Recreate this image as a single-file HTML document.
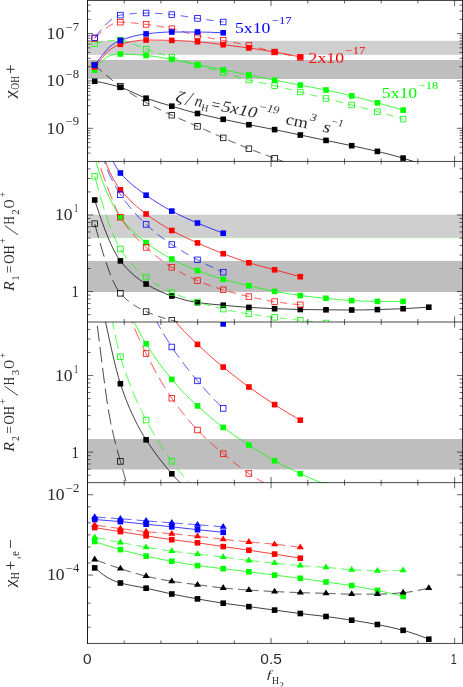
<!DOCTYPE html>
<html><head><meta charset="utf-8"><title>chart</title>
<style>html,body{margin:0;padding:0;background:#fff;}svg{display:block;}</style></head>
<body>
<svg width="463" height="687" viewBox="0 0 463 687">
<rect x="0" y="0" width="463" height="687" fill="#fff"/>
<defs>
<clipPath id="cp0"><rect x="87.50" y="0.50" width="375.00" height="160.95"/></clipPath>
<clipPath id="cp1"><rect x="87.50" y="161.45" width="375.00" height="160.55"/></clipPath>
<clipPath id="cp2"><rect x="87.50" y="322.00" width="375.00" height="160.65"/></clipPath>
<clipPath id="cp3"><rect x="87.50" y="482.65" width="375.00" height="160.80"/></clipPath>
</defs>
<rect x="87.50" y="40.90" width="375.00" height="14.00" fill="#cfcfcf"/>
<rect x="87.50" y="60.00" width="375.00" height="19.00" fill="#bebebe"/>
<rect x="87.50" y="214.70" width="375.00" height="23.00" fill="#cfcfcf"/>
<rect x="87.50" y="260.90" width="375.00" height="31.10" fill="#bebebe"/>
<line x1="87.50" x2="462.50" y1="237.8" y2="237.8" stroke="#00ff00" stroke-width="0.6" stroke-opacity="0.3"/>
<rect x="87.50" y="439.00" width="375.00" height="30.40" fill="#bebebe"/>
<g clip-path="url(#cp0)">
<path d="M94.70 65.00L95.13 65.40L95.56 65.79L95.99 66.19L96.41 66.58L96.84 66.97L97.27 67.36L97.70 67.75L98.13 68.14L98.56 68.53L98.98 68.91L99.41 69.30L99.84 69.68L100.27 70.06L100.70 70.44L101.13 70.82L101.55 71.20L101.80 71.41M106.04 75.07L106.27 75.26L106.69 75.62L107.12 75.98L107.55 76.33L107.98 76.69L108.41 77.04L108.83 77.40L109.26 77.75L109.69 78.10L110.12 78.44L110.55 78.79L110.98 79.14L111.40 79.48L111.83 79.82L112.26 80.16L112.69 80.50L113.12 80.84L113.18 80.89M117.63 84.28L117.83 84.43L118.26 84.75L118.69 85.06L119.11 85.37L119.54 85.68L119.97 85.99L120.40 86.30L120.83 86.61L121.26 86.91L121.69 87.21L122.11 87.52L122.54 87.82L122.97 88.11L123.40 88.41L123.83 88.71L124.26 89.00L124.68 89.30L124.84 89.40M129.49 92.51L129.82 92.73L130.25 93.01L130.68 93.28L131.11 93.56L131.54 93.83L131.97 94.11L132.39 94.38L132.82 94.65L133.25 94.92L133.68 95.19L134.11 95.45L134.53 95.72L134.96 95.98L135.39 96.25L135.82 96.51L136.25 96.77L136.68 97.03L136.73 97.07M141.55 99.92L141.82 100.08L142.24 100.32L142.67 100.57L143.10 100.81L143.53 101.06L143.96 101.30L144.39 101.54L144.81 101.78L145.24 102.02L145.67 102.26L146.10 102.50L146.53 102.74L146.96 102.97L147.39 103.21L147.81 103.44L148.24 103.67L148.67 103.90L148.80 103.97M153.76 106.56L153.81 106.59L154.24 106.80L154.67 107.02L155.10 107.24L155.52 107.45L155.95 107.67L156.38 107.88L156.81 108.09L157.24 108.30L157.67 108.51L158.09 108.72L158.52 108.93L158.95 109.14L159.38 109.35L159.81 109.56L160.23 109.77L160.66 109.97L161.04 110.15M166.10 112.55L166.23 112.61L166.66 112.81L167.09 113.01L167.52 113.21L167.94 113.41L168.37 113.61L168.80 113.81L169.23 114.01L169.66 114.21L170.09 114.41L170.51 114.60L170.94 114.80L171.37 115.00L171.80 115.20L172.23 115.40L172.66 115.60L173.09 115.79L173.38 115.93M178.49 118.21L178.65 118.28L179.08 118.47L179.51 118.66L179.94 118.84L180.37 119.03L180.80 119.21L181.22 119.40L181.65 119.58L182.08 119.77L182.51 119.95L182.94 120.14L183.37 120.32L183.79 120.50L184.22 120.69L184.65 120.87L185.08 121.05L185.51 121.24L185.79 121.36M190.94 123.55L191.07 123.61L191.50 123.80L191.93 123.98L192.36 124.16L192.79 124.35L193.22 124.53L193.64 124.72L194.07 124.90L194.50 125.09L194.93 125.28L195.36 125.46L195.79 125.65L196.21 125.84L196.64 126.02L197.07 126.21L197.50 126.40L197.93 126.59L198.25 126.73M203.36 129.01L203.50 129.08L203.93 129.27L204.35 129.46L204.78 129.66L205.21 129.85L205.64 130.04L206.07 130.24L206.50 130.43L206.92 130.62L207.35 130.82L207.78 131.01L208.21 131.21L208.64 131.40L209.07 131.59L209.49 131.79L209.92 131.98L210.35 132.18L210.66 132.32M215.76 134.62L215.92 134.69L216.35 134.88L216.77 135.07L217.20 135.26L217.63 135.45L218.06 135.64L218.49 135.83L218.92 136.02L219.34 136.21L219.77 136.40L220.20 136.59L220.63 136.78L221.06 136.97L221.49 137.15L221.91 137.34L222.34 137.53L222.77 137.71L223.05 137.83M228.19 140.06L228.34 140.12L228.77 140.31L229.20 140.49L229.63 140.68L230.05 140.86L230.48 141.04L230.91 141.23L231.34 141.41L231.77 141.60L232.20 141.78L232.62 141.96L233.05 142.15L233.48 142.33L233.91 142.51L234.34 142.69L234.77 142.88L235.19 143.06L235.48 143.18M240.64 145.35L240.76 145.40L241.19 145.57L241.62 145.75L242.05 145.93L242.47 146.10L242.90 146.28L243.33 146.46L243.76 146.63L244.19 146.81L244.62 146.98L245.04 147.15L245.47 147.33L245.90 147.50L246.33 147.67L246.76 147.85L247.19 148.02L247.61 148.19L247.92 148.31M253.14 150.35L253.18 150.36L253.61 150.53L254.04 150.69L254.47 150.85L254.90 151.02L255.33 151.18L255.75 151.34L256.18 151.50L256.61 151.66L257.04 151.82L257.47 151.98L257.90 152.14L258.32 152.30L258.75 152.46L259.18 152.62L259.61 152.77L260.04 152.93L260.42 153.07M265.68 155.00L266.03 155.13L266.46 155.29L266.89 155.45L267.32 155.60L267.75 155.76L268.17 155.92L268.60 156.08L269.03 156.23L269.46 156.39L269.89 156.55L270.32 156.71L270.74 156.86L271.17 157.02L271.60 157.18L272.03 157.34L272.46 157.50L272.89 157.66L272.98 157.69M278.22 159.66L278.46 159.75L278.88 159.91L279.31 160.07L279.74 160.23L280.17 160.39L280.60 160.55L281.03 160.71L281.45 160.87L281.88 161.03L282.31 161.20L282.74 161.36L283.17 161.52L283.60 161.68L284.02 161.84L284.45 162.00L284.88 162.16L285.31 162.32L285.51 162.40M290.75 164.37L290.88 164.42L291.30 164.58L291.73 164.74L292.16 164.90L292.59 165.07L293.02 165.23L293.45 165.39L293.87 165.55L294.30 165.72L294.73 165.88L295.16 166.04L295.59 166.20L296.02 166.37L296.44 166.53L296.87 166.69L297.30 166.86L297.73 167.02L298.05 167.14M303.28 169.14L303.30 169.15L303.73 169.32L304.16 169.48L304.58 169.64L305.01 169.81L305.44 169.98L305.87 170.14L306.30 170.31L306.73 170.47L307.15 170.64L307.58 170.80L308.01 170.97L308.44 171.13L308.87 171.30L309.30 171.47L309.72 171.63L310.15 171.80L310.58 171.96M315.80 173.99L316.15 174.13L316.58 174.30L317.00 174.47L317.43 174.63L317.86 174.80L318.29 174.97L318.72 175.14L319.15 175.30L319.57 175.47L320.00 175.64L320.43 175.81L320.86 175.98L321.29 176.15L321.72 176.31L322.14 176.48L322.57 176.65L322.99 176.81" fill="none" stroke="#000000" stroke-width="0.75"/>
<rect x="91.90" y="62.20" width="5.60" height="5.60" fill="none" stroke="#000000" stroke-width="0.78"/>
<rect x="117.60" y="83.50" width="5.60" height="5.60" fill="none" stroke="#000000" stroke-width="0.78"/>
<rect x="143.30" y="99.70" width="5.60" height="5.60" fill="none" stroke="#000000" stroke-width="0.78"/>
<rect x="169.00" y="112.40" width="5.60" height="5.60" fill="none" stroke="#000000" stroke-width="0.78"/>
<rect x="194.70" y="123.60" width="5.60" height="5.60" fill="none" stroke="#000000" stroke-width="0.78"/>
<rect x="220.40" y="135.10" width="5.60" height="5.60" fill="none" stroke="#000000" stroke-width="0.78"/>
<rect x="246.10" y="145.90" width="5.60" height="5.60" fill="none" stroke="#000000" stroke-width="0.78"/>
<rect x="271.80" y="155.50" width="5.60" height="5.60" fill="none" stroke="#000000" stroke-width="0.78"/>
<rect x="297.50" y="165.20" width="5.60" height="5.60" fill="none" stroke="#000000" stroke-width="0.78"/>
<rect x="323.20" y="175.20" width="5.60" height="5.60" fill="none" stroke="#000000" stroke-width="0.78"/>
<path d="M94.70 81.30 C103.27 82.48 111.83 84.72 120.40 87.30 C128.97 89.88 137.53 95.12 146.10 98.20 C154.67 101.28 163.23 103.66 171.80 106.20 C180.37 108.74 188.93 111.35 197.50 113.50 C206.07 115.65 214.63 117.44 223.20 119.30 C231.77 121.16 240.33 122.99 248.90 124.70 C257.47 126.41 266.03 127.89 274.60 129.60 C283.17 131.31 291.73 133.20 300.30 135.00 C308.87 136.80 317.43 138.62 326.00 140.40 C334.57 142.18 343.13 143.87 351.70 145.70 C360.27 147.53 368.83 149.35 377.40 151.40 C385.97 153.45 394.53 155.55 403.10 158.10 C411.67 160.65 420.23 163.67 428.80 167.00" fill="none" stroke="#000000" stroke-width="0.75"/>
<rect x="91.90" y="78.50" width="5.60" height="5.60" fill="#000000"/>
<rect x="117.60" y="84.50" width="5.60" height="5.60" fill="#000000"/>
<rect x="143.30" y="95.40" width="5.60" height="5.60" fill="#000000"/>
<rect x="169.00" y="103.40" width="5.60" height="5.60" fill="#000000"/>
<rect x="194.70" y="110.70" width="5.60" height="5.60" fill="#000000"/>
<rect x="220.40" y="116.50" width="5.60" height="5.60" fill="#000000"/>
<rect x="246.10" y="121.90" width="5.60" height="5.60" fill="#000000"/>
<rect x="271.80" y="126.80" width="5.60" height="5.60" fill="#000000"/>
<rect x="297.50" y="132.20" width="5.60" height="5.60" fill="#000000"/>
<rect x="323.20" y="137.60" width="5.60" height="5.60" fill="#000000"/>
<rect x="348.90" y="142.90" width="5.60" height="5.60" fill="#000000"/>
<rect x="374.60" y="148.60" width="5.60" height="5.60" fill="#000000"/>
<rect x="400.30" y="155.30" width="5.60" height="5.60" fill="#000000"/>
<rect x="426.00" y="164.20" width="5.60" height="5.60" fill="#000000"/>
<path d="M94.70 43.80L95.13 43.64L95.56 43.49L95.99 43.35L96.41 43.20L96.84 43.07L97.27 42.93L97.70 42.81L98.13 42.68L98.56 42.56L98.98 42.45L99.41 42.34L99.84 42.23L100.27 42.13L100.70 42.03L101.13 41.93L101.55 41.84L101.89 41.77M107.42 40.93L107.55 40.91L107.98 40.87L108.41 40.83L108.83 40.79L109.26 40.75L109.69 40.72L110.12 40.68L110.55 40.65L110.98 40.63L111.40 40.60L111.83 40.58L112.26 40.56L112.69 40.54L113.12 40.52L113.55 40.50L113.97 40.49L114.40 40.47L114.66 40.46M120.26 40.40L120.40 40.40L120.83 40.40L121.26 40.42L121.69 40.44L122.11 40.48L122.54 40.52L122.97 40.57L123.40 40.63L123.83 40.70L124.26 40.77L124.68 40.86L125.11 40.95L125.54 41.05L125.97 41.15L126.40 41.26L126.83 41.38L127.25 41.51L127.68 41.64L127.70 41.64M132.93 43.62L133.25 43.75L133.68 43.94L134.11 44.13L134.53 44.32L134.96 44.51L135.39 44.70L135.82 44.90L136.25 45.09L136.68 45.29L137.10 45.48L137.53 45.68L137.96 45.87L138.39 46.07L138.82 46.26L139.25 46.46L139.67 46.65L140.10 46.84L140.18 46.87M145.37 48.96L145.67 49.06L146.10 49.20L146.53 49.34L146.96 49.48L147.39 49.62L147.81 49.76L148.24 49.89L148.67 50.03L149.10 50.17L149.53 50.31L149.96 50.44L150.38 50.58L150.81 50.71L151.24 50.85L151.67 50.99L152.10 51.12L152.53 51.26L152.65 51.30M158.00 52.97L158.09 53.00L158.52 53.13L158.95 53.26L159.38 53.39L159.81 53.52L160.23 53.66L160.66 53.79L161.09 53.92L161.52 54.05L161.95 54.18L162.38 54.31L162.80 54.45L163.23 54.58L163.66 54.71L164.09 54.84L164.52 54.97L164.95 55.10L165.28 55.20M170.63 56.84L170.94 56.94L171.37 57.07L171.80 57.20L172.23 57.33L172.66 57.46L173.09 57.59L173.51 57.73L173.94 57.86L174.37 57.99L174.80 58.12L175.23 58.25L175.66 58.38L176.08 58.52L176.51 58.65L176.94 58.78L177.37 58.91L177.80 59.04L177.92 59.08M183.27 60.72L183.37 60.75L183.79 60.88L184.22 61.01L184.65 61.14L185.08 61.27L185.51 61.40L185.93 61.53L186.36 61.66L186.79 61.79L187.22 61.92L187.65 62.05L188.08 62.18L188.50 62.31L188.93 62.44L189.36 62.57L189.79 62.70L190.22 62.83L190.55 62.93M195.92 64.53L196.21 64.62L196.64 64.75L197.07 64.87L197.50 65.00L197.93 65.13L198.36 65.25L198.79 65.38L199.21 65.50L199.64 65.63L200.07 65.75L200.50 65.88L200.93 66.00L201.36 66.13L201.78 66.25L202.21 66.38L202.64 66.50L203.07 66.62L203.19 66.66M208.57 68.20L208.64 68.22L209.07 68.34L209.49 68.47L209.92 68.59L210.35 68.71L210.78 68.83L211.21 68.96L211.63 69.08L212.06 69.20L212.49 69.32L212.92 69.44L213.35 69.57L213.78 69.69L214.20 69.81L214.63 69.93L215.06 70.05L215.49 70.18L215.86 70.28M221.24 71.83L221.49 71.90L221.91 72.03L222.34 72.15L222.77 72.28L223.20 72.40L223.63 72.53L224.06 72.65L224.49 72.78L224.91 72.91L225.34 73.03L225.77 73.16L226.20 73.29L226.63 73.42L227.06 73.55L227.48 73.68L227.91 73.81L228.34 73.94L228.53 74.00M233.88 75.65L233.91 75.66L234.34 75.80L234.77 75.93L235.19 76.06L235.62 76.19L236.05 76.32L236.48 76.46L236.91 76.59L237.33 76.72L237.76 76.85L238.19 76.98L238.62 77.11L239.05 77.24L239.48 77.37L239.90 77.49L240.33 77.62L240.76 77.75L241.15 77.86M246.54 79.38L246.76 79.44L247.19 79.56L247.61 79.67L248.04 79.78L248.47 79.89L248.90 80.00L249.33 80.11L249.76 80.21L250.19 80.32L250.61 80.43L251.04 80.53L251.47 80.63L251.90 80.74L252.33 80.84L252.76 80.94L253.18 81.04L253.61 81.14L253.79 81.18M259.26 82.38L259.61 82.46L260.04 82.55L260.47 82.64L260.89 82.73L261.32 82.82L261.75 82.91L262.18 83.00L262.61 83.09L263.03 83.18L263.46 83.27L263.89 83.36L264.32 83.45L264.75 83.54L265.18 83.63L265.60 83.73L266.03 83.82L266.46 83.91L266.53 83.92M272.00 85.11L272.03 85.11L272.46 85.21L272.89 85.31L273.31 85.40L273.74 85.50L274.17 85.60L274.60 85.70L275.03 85.80L275.46 85.90L275.89 86.00L276.31 86.10L276.74 86.20L277.17 86.30L277.60 86.41L278.03 86.51L278.46 86.61L278.88 86.71L279.28 86.81M284.72 88.13L284.88 88.17L285.31 88.27L285.74 88.38L286.17 88.48L286.59 88.59L287.02 88.70L287.45 88.80L287.88 88.91L288.31 89.01L288.73 89.12L289.16 89.23L289.59 89.33L290.02 89.44L290.45 89.54L290.88 89.65L291.30 89.76L291.73 89.86L292.00 89.93M297.43 91.29L297.73 91.36L298.16 91.47L298.59 91.57L299.01 91.68L299.44 91.79L299.87 91.89L300.30 92.00L300.73 92.11L301.16 92.21L301.59 92.32L302.01 92.43L302.44 92.53L302.87 92.64L303.30 92.75L303.73 92.86L304.16 92.96L304.58 93.07L304.71 93.10M310.14 94.47L310.15 94.47L310.58 94.58L311.01 94.69L311.44 94.80L311.87 94.91L312.29 95.02L312.72 95.13L313.15 95.23L313.58 95.34L314.01 95.45L314.43 95.56L314.86 95.67L315.29 95.78L315.72 95.89L316.15 96.00L316.58 96.11L317.00 96.21L317.42 96.32M322.84 97.70L323.00 97.74L323.43 97.85L323.86 97.96L324.29 98.07L324.71 98.17L325.14 98.28L325.57 98.39L326.00 98.50L326.43 98.61L326.86 98.72L327.29 98.83L327.71 98.93L328.14 99.04L328.57 99.15L329.00 99.26L329.43 99.37L329.86 99.47L330.12 99.54M335.55 100.91L335.85 100.98L336.28 101.09L336.71 101.20L337.14 101.31L337.57 101.42L337.99 101.52L338.42 101.63L338.85 101.74L339.28 101.85L339.71 101.95L340.13 102.06L340.56 102.17L340.99 102.28L341.42 102.39L341.85 102.49L342.28 102.60L342.70 102.71L342.82 102.74M348.25 104.12L348.27 104.12L348.70 104.23L349.13 104.34L349.56 104.45L349.99 104.56L350.41 104.67L350.84 104.78L351.27 104.89L351.70 105.00L352.13 105.11L352.56 105.22L352.99 105.33L353.41 105.44L353.84 105.55L354.27 105.66L354.70 105.77L355.13 105.88L355.53 105.98M360.95 107.37L361.12 107.41L361.55 107.52L361.98 107.63L362.41 107.75L362.84 107.86L363.27 107.97L363.69 108.08L364.12 108.19L364.55 108.30L364.98 108.41L365.41 108.52L365.83 108.63L366.26 108.74L366.69 108.85L367.12 108.96L367.55 109.08L367.98 109.19L368.23 109.26M373.65 110.69L373.97 110.77L374.40 110.89L374.83 111.00L375.26 111.12L375.69 111.23L376.11 111.35L376.54 111.47L376.97 111.58L377.40 111.70L377.83 111.82L378.26 111.93L378.69 112.05L379.11 112.17L379.54 112.29L379.97 112.41L380.40 112.52L380.83 112.64L380.93 112.67M386.33 114.19L386.40 114.21L386.82 114.33L387.25 114.45L387.68 114.57L388.11 114.70L388.54 114.82L388.97 114.94L389.39 115.06L389.82 115.19L390.25 115.31L390.68 115.43L391.11 115.56L391.53 115.68L391.96 115.81L392.39 115.93L392.82 116.05L393.25 116.18L393.61 116.29M398.98 117.87L399.24 117.95L399.67 118.07L400.10 118.20L400.53 118.33L400.96 118.46L401.39 118.59L401.81 118.71L402.24 118.84L402.67 118.97L403.10 119.10" fill="none" stroke="#00ff00" stroke-width="0.75"/>
<rect x="91.90" y="41.00" width="5.60" height="5.60" fill="none" stroke="#00ff00" stroke-width="0.78"/>
<rect x="117.60" y="37.60" width="5.60" height="5.60" fill="none" stroke="#00ff00" stroke-width="0.78"/>
<rect x="143.30" y="46.40" width="5.60" height="5.60" fill="none" stroke="#00ff00" stroke-width="0.78"/>
<rect x="169.00" y="54.40" width="5.60" height="5.60" fill="none" stroke="#00ff00" stroke-width="0.78"/>
<rect x="194.70" y="62.20" width="5.60" height="5.60" fill="none" stroke="#00ff00" stroke-width="0.78"/>
<rect x="220.40" y="69.60" width="5.60" height="5.60" fill="none" stroke="#00ff00" stroke-width="0.78"/>
<rect x="246.10" y="77.20" width="5.60" height="5.60" fill="none" stroke="#00ff00" stroke-width="0.78"/>
<rect x="271.80" y="82.90" width="5.60" height="5.60" fill="none" stroke="#00ff00" stroke-width="0.78"/>
<rect x="297.50" y="89.20" width="5.60" height="5.60" fill="none" stroke="#00ff00" stroke-width="0.78"/>
<rect x="323.20" y="95.70" width="5.60" height="5.60" fill="none" stroke="#00ff00" stroke-width="0.78"/>
<rect x="348.90" y="102.20" width="5.60" height="5.60" fill="none" stroke="#00ff00" stroke-width="0.78"/>
<rect x="374.60" y="108.90" width="5.60" height="5.60" fill="none" stroke="#00ff00" stroke-width="0.78"/>
<rect x="400.30" y="116.30" width="5.60" height="5.60" fill="none" stroke="#00ff00" stroke-width="0.78"/>
<path d="M94.70 70.20 C97.00 66.72 99.30 63.59 101.60 61.50 C104.47 58.90 107.33 56.21 110.20 55.50 C113.60 54.66 117.00 54.00 120.40 54.00 C128.97 54.00 137.53 54.78 146.10 55.50 C154.67 56.22 163.23 57.89 171.80 59.40 C180.37 60.91 188.93 63.07 197.50 64.80 C206.07 66.53 214.63 68.10 223.20 69.80 C231.77 71.50 240.33 73.28 248.90 75.00 C257.47 76.72 266.03 78.42 274.60 80.10 C283.17 81.78 291.73 83.45 300.30 85.10 C308.87 86.75 317.43 88.22 326.00 90.00 C334.57 91.78 343.13 93.78 351.70 95.90 C360.27 98.02 368.83 100.44 377.40 102.80 C385.97 105.16 394.53 107.60 403.10 110.10" fill="none" stroke="#00ff00" stroke-width="0.75"/>
<rect x="91.90" y="67.40" width="5.60" height="5.60" fill="#00ff00"/>
<rect x="117.60" y="51.20" width="5.60" height="5.60" fill="#00ff00"/>
<rect x="143.30" y="52.70" width="5.60" height="5.60" fill="#00ff00"/>
<rect x="169.00" y="56.60" width="5.60" height="5.60" fill="#00ff00"/>
<rect x="194.70" y="62.00" width="5.60" height="5.60" fill="#00ff00"/>
<rect x="220.40" y="67.00" width="5.60" height="5.60" fill="#00ff00"/>
<rect x="246.10" y="72.20" width="5.60" height="5.60" fill="#00ff00"/>
<rect x="271.80" y="77.30" width="5.60" height="5.60" fill="#00ff00"/>
<rect x="297.50" y="82.30" width="5.60" height="5.60" fill="#00ff00"/>
<rect x="323.20" y="87.20" width="5.60" height="5.60" fill="#00ff00"/>
<rect x="348.90" y="93.10" width="5.60" height="5.60" fill="#00ff00"/>
<rect x="374.60" y="100.00" width="5.60" height="5.60" fill="#00ff00"/>
<rect x="400.30" y="107.30" width="5.60" height="5.60" fill="#00ff00"/>
<path d="M94.70 38.50L95.13 38.07L95.56 37.65L95.99 37.23L96.41 36.81L96.84 36.39L97.27 35.97L97.70 35.56L98.13 35.15L98.56 34.74L98.98 34.33L99.41 33.93L99.84 33.53L100.27 33.14L100.70 32.75L101.13 32.36L101.55 31.98L101.68 31.87M105.99 28.30L106.27 28.09L106.69 27.77L107.12 27.46L107.55 27.15L107.98 26.86L108.41 26.57L108.83 26.28L109.26 26.01L109.69 25.74L110.12 25.48L110.55 25.23L110.98 24.99L111.40 24.76L111.83 24.53L112.26 24.32L112.69 24.11L112.93 24.00M118.27 22.36L118.69 22.30L119.11 22.26L119.54 22.23L119.97 22.21L120.40 22.20L120.83 22.20L121.26 22.20L121.69 22.21L122.11 22.22L122.54 22.22L122.97 22.24L123.40 22.25L123.83 22.26L124.26 22.28L124.68 22.30L125.11 22.31L125.52 22.33M131.11 22.73L131.54 22.77L131.97 22.81L132.39 22.85L132.82 22.89L133.25 22.94L133.68 22.98L134.11 23.02L134.53 23.07L134.96 23.11L135.39 23.16L135.82 23.21L136.25 23.25L136.68 23.30L137.10 23.35L137.53 23.40L137.96 23.45L138.37 23.49M143.93 24.15L143.96 24.15L144.39 24.20L144.81 24.25L145.24 24.30L145.67 24.35L146.10 24.40L146.53 24.45L146.96 24.50L147.39 24.55L147.81 24.60L148.24 24.65L148.67 24.71L149.10 24.76L149.53 24.82L149.96 24.88L150.38 24.93L150.81 24.99L151.20 25.04M156.74 25.88L156.81 25.89L157.24 25.96L157.67 26.03L158.09 26.10L158.52 26.18L158.95 26.25L159.38 26.32L159.81 26.40L160.23 26.47L160.66 26.55L161.09 26.62L161.52 26.70L161.95 26.78L162.38 26.86L162.80 26.93L163.23 27.01L163.66 27.09L164.01 27.16M169.51 28.23L169.66 28.26L170.09 28.35L170.51 28.44L170.94 28.52L171.37 28.61L171.80 28.70L172.23 28.79L172.66 28.88L173.09 28.98L173.51 29.07L173.94 29.17L174.37 29.27L174.80 29.38L175.23 29.48L175.66 29.59L176.08 29.69L176.51 29.80L176.82 29.89M182.22 31.39L182.51 31.47L182.94 31.60L183.37 31.73L183.79 31.85L184.22 31.98L184.65 32.11L185.08 32.23L185.51 32.36L185.93 32.49L186.36 32.61L186.79 32.74L187.22 32.86L187.65 32.99L188.08 33.12L188.50 33.24L188.93 33.36L189.36 33.49L189.48 33.52M194.88 34.98L194.93 35.00L195.36 35.10L195.79 35.20L196.21 35.31L196.64 35.41L197.07 35.50L197.50 35.60L197.93 35.69L198.36 35.79L198.79 35.88L199.21 35.97L199.64 36.06L200.07 36.15L200.50 36.24L200.93 36.32L201.36 36.41L201.78 36.50L202.13 36.57M207.64 37.60L207.78 37.63L208.21 37.71L208.64 37.79L209.07 37.86L209.49 37.94L209.92 38.01L210.35 38.09L210.78 38.17L211.21 38.24L211.63 38.32L212.06 38.39L212.49 38.47L212.92 38.54L213.35 38.62L213.78 38.69L214.20 38.77L214.63 38.84L214.90 38.89M220.41 39.88L220.63 39.92L221.06 40.00L221.49 40.07L221.91 40.16L222.34 40.24L222.77 40.32L223.20 40.40L223.63 40.48L224.06 40.56L224.49 40.65L224.91 40.73L225.34 40.81L225.77 40.89L226.20 40.97L226.63 41.06L227.06 41.14L227.48 41.22L227.68 41.26M233.18 42.30L233.48 42.36L233.91 42.44L234.34 42.52L234.77 42.60L235.19 42.69L235.62 42.77L236.05 42.85L236.48 42.94L236.91 43.02L237.33 43.10L237.76 43.19L238.19 43.27L238.62 43.35L239.05 43.44L239.48 43.52L239.90 43.61L240.33 43.70L240.46 43.72M245.94 44.85L246.33 44.94L246.76 45.03L247.19 45.12L247.61 45.22L248.04 45.31L248.47 45.40L248.90 45.50L249.33 45.60L249.76 45.69L250.19 45.79L250.61 45.89L251.04 45.99L251.47 46.09L251.90 46.19L252.33 46.30L252.76 46.40L253.18 46.51L253.23 46.52M258.66 47.90L258.75 47.93L259.18 48.04L259.61 48.15L260.04 48.27L260.47 48.38L260.89 48.49L261.32 48.61L261.75 48.72L262.18 48.83L262.61 48.95L263.03 49.06L263.46 49.18L263.89 49.29L264.32 49.40L264.75 49.52L265.18 49.63L265.60 49.74L265.93 49.83M271.35 51.22L271.60 51.28L272.03 51.39L272.46 51.49L272.89 51.59L273.31 51.70L273.74 51.80L274.17 51.90L274.60 52.00L275.03 52.10L275.46 52.20L275.89 52.30L276.31 52.40L276.74 52.49L277.17 52.59L277.60 52.69L278.03 52.79L278.46 52.89L278.62 52.92M284.08 54.14L284.45 54.22L284.88 54.31L285.31 54.41L285.74 54.50L286.17 54.59L286.59 54.69L287.02 54.78L287.45 54.87L287.88 54.96L288.31 55.05L288.73 55.14L289.16 55.23L289.59 55.33L290.02 55.42L290.45 55.51L290.88 55.60L291.30 55.68L291.35 55.69M296.83 56.81L296.87 56.82L297.30 56.91L297.73 56.99L298.16 57.08L298.59 57.16L299.01 57.25L299.44 57.33L299.87 57.42L300.30 57.50" fill="none" stroke="#ff0000" stroke-width="0.75"/>
<rect x="91.90" y="35.70" width="5.60" height="5.60" fill="none" stroke="#ff0000" stroke-width="0.78"/>
<rect x="117.60" y="19.40" width="5.60" height="5.60" fill="none" stroke="#ff0000" stroke-width="0.78"/>
<rect x="143.30" y="21.60" width="5.60" height="5.60" fill="none" stroke="#ff0000" stroke-width="0.78"/>
<rect x="169.00" y="25.90" width="5.60" height="5.60" fill="none" stroke="#ff0000" stroke-width="0.78"/>
<rect x="194.70" y="32.80" width="5.60" height="5.60" fill="none" stroke="#ff0000" stroke-width="0.78"/>
<rect x="220.40" y="37.60" width="5.60" height="5.60" fill="none" stroke="#ff0000" stroke-width="0.78"/>
<rect x="246.10" y="42.70" width="5.60" height="5.60" fill="none" stroke="#ff0000" stroke-width="0.78"/>
<rect x="271.80" y="49.20" width="5.60" height="5.60" fill="none" stroke="#ff0000" stroke-width="0.78"/>
<rect x="297.50" y="54.70" width="5.60" height="5.60" fill="none" stroke="#ff0000" stroke-width="0.78"/>
<path d="M94.70 67.00 C97.00 63.98 99.30 61.11 101.60 58.50 C104.47 55.25 107.33 51.48 110.20 49.50 C113.60 47.15 117.00 45.22 120.40 44.30 C128.97 41.97 137.53 40.00 146.10 40.00 C154.67 40.00 163.23 40.20 171.80 40.40 C180.37 40.60 188.93 41.10 197.50 41.70 C206.07 42.30 214.63 43.65 223.20 44.70 C231.77 45.75 240.33 46.79 248.90 48.00 C257.47 49.21 266.03 50.52 274.60 52.00 C283.17 53.48 291.73 55.17 300.30 57.00" fill="none" stroke="#ff0000" stroke-width="0.75"/>
<rect x="91.90" y="64.20" width="5.60" height="5.60" fill="#ff0000"/>
<rect x="117.60" y="41.50" width="5.60" height="5.60" fill="#ff0000"/>
<rect x="143.30" y="37.20" width="5.60" height="5.60" fill="#ff0000"/>
<rect x="169.00" y="37.60" width="5.60" height="5.60" fill="#ff0000"/>
<rect x="194.70" y="38.90" width="5.60" height="5.60" fill="#ff0000"/>
<rect x="220.40" y="41.90" width="5.60" height="5.60" fill="#ff0000"/>
<rect x="246.10" y="45.20" width="5.60" height="5.60" fill="#ff0000"/>
<rect x="271.80" y="49.20" width="5.60" height="5.60" fill="#ff0000"/>
<rect x="297.50" y="54.20" width="5.60" height="5.60" fill="#ff0000"/>
<path d="M94.70 37.80L95.13 37.25L95.56 36.70L95.99 36.16L96.41 35.61L96.84 35.07L97.27 34.53L97.70 33.99L98.13 33.45L98.56 32.92L98.98 32.39L99.41 31.86L99.84 31.34L100.27 30.82L100.70 30.30L101.13 29.79L101.40 29.47M105.12 25.28L105.41 24.97L105.84 24.52L106.27 24.08L106.69 23.65L107.12 23.22L107.55 22.80L107.98 22.40L108.41 21.99L108.83 21.60L109.26 21.22L109.69 20.84L110.12 20.48L110.55 20.12L110.98 19.77L111.40 19.44L111.83 19.11L111.90 19.06M116.69 16.20L116.97 16.08L117.40 15.91L117.83 15.75L118.26 15.61L118.69 15.48L119.11 15.36L119.54 15.26L119.97 15.17L120.40 15.10L120.83 15.04L121.26 14.97L121.69 14.91L122.11 14.85L122.54 14.79L122.97 14.73L123.40 14.67L123.83 14.61L123.90 14.60M129.45 13.93L129.82 13.90L130.25 13.85L130.68 13.81L131.11 13.77L131.54 13.72L131.97 13.68L132.39 13.65L132.82 13.61L133.25 13.57L133.68 13.53L134.11 13.50L134.53 13.47L134.96 13.43L135.39 13.40L135.82 13.37L136.25 13.34L136.68 13.31L136.70 13.31M142.29 13.05L142.67 13.04L143.10 13.03L143.53 13.02L143.96 13.02L144.39 13.01L144.81 13.01L145.24 13.00L145.67 13.00L146.10 13.00L146.53 13.00L146.96 13.00L147.39 13.01L147.81 13.01L148.24 13.02L148.67 13.02L149.10 13.03L149.53 13.04L149.55 13.04M155.14 13.27L155.52 13.30L155.95 13.32L156.38 13.35L156.81 13.37L157.24 13.40L157.67 13.43L158.09 13.46L158.52 13.49L158.95 13.52L159.38 13.55L159.81 13.58L160.23 13.61L160.66 13.65L161.09 13.68L161.52 13.71L161.95 13.75L162.38 13.78L162.40 13.78M167.98 14.26L168.37 14.30L168.80 14.33L169.23 14.37L169.66 14.41L170.09 14.45L170.51 14.49L170.94 14.52L171.37 14.56L171.80 14.60L172.23 14.64L172.66 14.68L173.09 14.72L173.51 14.76L173.94 14.81L174.37 14.86L174.80 14.90L175.23 14.95L175.25 14.96M180.80 15.71L181.22 15.77L181.65 15.84L182.08 15.91L182.51 15.97L182.94 16.04L183.37 16.11L183.79 16.18L184.22 16.25L184.65 16.32L185.08 16.39L185.51 16.46L185.93 16.53L186.36 16.60L186.79 16.68L187.22 16.75L187.65 16.82L188.06 16.89M193.58 17.80L193.64 17.81L194.07 17.88L194.50 17.95L194.93 18.01L195.36 18.08L195.79 18.15L196.21 18.21L196.64 18.28L197.07 18.34L197.50 18.40L197.93 18.46L198.36 18.52L198.79 18.58L199.21 18.65L199.64 18.71L200.07 18.77L200.50 18.83L200.84 18.88M206.39 19.66L206.50 19.68L206.92 19.74L207.35 19.80L207.78 19.86L208.21 19.92L208.64 19.98L209.07 20.04L209.49 20.10L209.92 20.16L210.35 20.22L210.78 20.28L211.21 20.34L211.63 20.40L212.06 20.46L212.49 20.52L212.92 20.58L213.35 20.64L213.64 20.68M219.19 21.45L219.34 21.47L219.77 21.53L220.20 21.59L220.63 21.65L221.06 21.71L221.49 21.77L221.91 21.82L222.34 21.88L222.77 21.94L223.20 22.00" fill="none" stroke="#0000ff" stroke-width="0.75"/>
<rect x="91.90" y="35.00" width="5.60" height="5.60" fill="none" stroke="#0000ff" stroke-width="0.78"/>
<rect x="117.60" y="12.30" width="5.60" height="5.60" fill="none" stroke="#0000ff" stroke-width="0.78"/>
<rect x="143.30" y="10.20" width="5.60" height="5.60" fill="none" stroke="#0000ff" stroke-width="0.78"/>
<rect x="169.00" y="11.80" width="5.60" height="5.60" fill="none" stroke="#0000ff" stroke-width="0.78"/>
<rect x="194.70" y="15.60" width="5.60" height="5.60" fill="none" stroke="#0000ff" stroke-width="0.78"/>
<rect x="220.40" y="19.20" width="5.60" height="5.60" fill="none" stroke="#0000ff" stroke-width="0.78"/>
<path d="M94.70 65.20 C97.00 62.03 99.30 59.00 101.60 56.20 C104.47 52.70 107.33 48.64 110.20 46.40 C113.60 43.74 117.00 41.68 120.40 40.40 C128.97 37.19 137.53 34.88 146.10 33.90 C154.67 32.92 163.23 32.00 171.80 32.00 C180.37 32.00 188.93 32.00 197.50 32.00 C206.07 32.00 214.63 32.40 223.20 32.80" fill="none" stroke="#0000ff" stroke-width="0.75"/>
<rect x="91.90" y="62.40" width="5.60" height="5.60" fill="#0000ff"/>
<rect x="117.60" y="37.60" width="5.60" height="5.60" fill="#0000ff"/>
<rect x="143.30" y="31.10" width="5.60" height="5.60" fill="#0000ff"/>
<rect x="169.00" y="29.20" width="5.60" height="5.60" fill="#0000ff"/>
<rect x="194.70" y="29.20" width="5.60" height="5.60" fill="#0000ff"/>
<rect x="220.40" y="30.00" width="5.60" height="5.60" fill="#0000ff"/>
</g>
<g clip-path="url(#cp1)">
<path d="M94.70 223.70L95.13 225.28L95.56 226.86L95.99 228.43L96.41 230.00L96.84 231.55L97.27 233.10L97.70 234.64L98.13 236.17L98.56 237.70L98.57 237.73M100.10 243.11L100.27 243.68L100.70 245.15L101.13 246.61L101.55 248.06L101.98 249.49L102.41 250.91L102.84 252.32L103.27 253.71L103.70 255.09L104.12 256.45L104.24 256.82M105.97 262.15L106.27 263.04L106.69 264.30L107.12 265.55L107.55 266.78L107.98 268.00L108.41 269.19L108.83 270.37L109.26 271.52L109.69 272.66L110.12 273.77L110.55 274.87L110.64 275.09M112.80 280.26L113.12 280.97L113.55 281.90L113.97 282.81L114.40 283.70L114.83 284.56L115.26 285.40L115.69 286.21L116.12 287.00L116.54 287.75L116.97 288.48L117.40 289.19L117.83 289.86L118.26 290.51L118.41 290.72M121.98 295.02L122.11 295.17L122.54 295.61L122.97 296.05L123.40 296.49L123.83 296.91L124.26 297.33L124.68 297.74L125.11 298.14L125.54 298.54L125.97 298.92L126.40 299.31L126.83 299.68L127.25 300.05L127.68 300.41L128.11 300.77L128.54 301.12L128.90 301.41M133.42 304.71L133.68 304.88L134.11 305.16L134.53 305.44L134.96 305.71L135.39 305.98L135.82 306.24L136.25 306.50L136.68 306.76L137.10 307.01L137.53 307.26L137.96 307.50L138.39 307.74L138.82 307.98L139.25 308.21L139.67 308.44L140.10 308.67L140.53 308.89L140.59 308.92M145.62 311.38L145.67 311.40L146.10 311.60L146.53 311.80L146.96 311.99L147.39 312.18L147.81 312.37L148.24 312.55L148.67 312.74L149.10 312.92L149.53 313.10L149.96 313.27L150.38 313.45L150.81 313.62L151.24 313.79L151.67 313.96L152.10 314.13L152.53 314.29L152.85 314.42M158.12 316.29L158.52 316.42L158.95 316.56L159.38 316.70L159.81 316.84L160.23 316.97L160.66 317.11L161.09 317.24L161.52 317.38L161.95 317.51L162.38 317.64L162.80 317.77L163.23 317.90L163.66 318.02L164.09 318.15L164.52 318.27L164.95 318.40L165.37 318.52L165.38 318.52M170.78 320.02L170.94 320.07L171.37 320.18L171.80 320.30L172.23 320.41L172.66 320.53L173.09 320.64L173.51 320.75L173.94 320.87L174.37 320.98L174.80 321.09L175.23 321.20L175.66 321.30L176.08 321.41L176.51 321.52L176.94 321.63L177.37 321.73L177.80 321.84L178.03 321.89M183.49 323.17L183.79 323.23L184.22 323.33L184.65 323.42L185.08 323.52L185.51 323.61L185.93 323.70L186.36 323.80L186.79 323.89L187.22 323.98L187.65 324.07L188.08 324.16L188.50 324.25L188.93 324.34L189.36 324.42L189.79 324.51L190.22 324.60L190.65 324.68L190.74 324.70M196.24 325.77L196.64 325.84L197.07 325.92L197.50 326.00L197.93 326.08L198.36 326.16L198.79 326.23L199.21 326.31L199.64 326.39L200.07 326.47L200.50 326.54L200.93 326.62L201.36 326.69L201.78 326.77L202.21 326.84L202.64 326.92L203.07 326.99L203.50 327.07L203.50 327.07M209.02 327.98L209.07 327.99L209.49 328.06L209.92 328.13L210.35 328.19L210.78 328.26L211.21 328.33L211.63 328.39L212.06 328.46L212.49 328.53L212.92 328.59L213.35 328.65L213.78 328.72L214.20 328.78L214.63 328.85L215.06 328.91L215.49 328.97L215.92 329.03L216.27 329.08M221.82 329.83L221.91 329.84L222.34 329.89L222.77 329.95L223.20 330.00" fill="none" stroke="#000000" stroke-width="0.75"/>
<rect x="91.90" y="220.90" width="5.60" height="5.60" fill="none" stroke="#000000" stroke-width="0.78"/>
<rect x="117.60" y="290.50" width="5.60" height="5.60" fill="none" stroke="#000000" stroke-width="0.78"/>
<rect x="143.30" y="308.80" width="5.60" height="5.60" fill="none" stroke="#000000" stroke-width="0.78"/>
<rect x="169.00" y="317.50" width="5.60" height="5.60" fill="none" stroke="#000000" stroke-width="0.78"/>
<rect x="194.70" y="323.20" width="5.60" height="5.60" fill="none" stroke="#000000" stroke-width="0.78"/>
<rect x="220.40" y="327.20" width="5.60" height="5.60" fill="none" stroke="#000000" stroke-width="0.78"/>
<path d="M94.70 200.00 C103.27 226.60 111.83 249.73 120.40 260.90 C128.97 272.06 137.53 278.74 146.10 284.00 C154.67 289.26 163.23 293.16 171.80 296.00 C180.37 298.84 188.93 301.36 197.50 302.60 C206.07 303.84 214.63 304.41 223.20 305.20 C231.77 305.99 240.33 306.86 248.90 307.40 C257.47 307.94 266.03 308.37 274.60 308.70 C283.17 309.03 291.73 309.35 300.30 309.50 C308.87 309.65 317.43 309.72 326.00 309.80 C334.57 309.88 343.13 310.00 351.70 310.00 C360.27 310.00 368.83 309.78 377.40 309.60 C385.97 309.42 394.53 309.07 403.10 308.70 C411.67 308.32 420.23 307.80 428.80 307.20" fill="none" stroke="#000000" stroke-width="0.75"/>
<rect x="91.90" y="197.20" width="5.60" height="5.60" fill="#000000"/>
<rect x="117.60" y="258.10" width="5.60" height="5.60" fill="#000000"/>
<rect x="143.30" y="281.20" width="5.60" height="5.60" fill="#000000"/>
<rect x="169.00" y="293.20" width="5.60" height="5.60" fill="#000000"/>
<rect x="194.70" y="299.80" width="5.60" height="5.60" fill="#000000"/>
<rect x="220.40" y="302.40" width="5.60" height="5.60" fill="#000000"/>
<rect x="246.10" y="304.60" width="5.60" height="5.60" fill="#000000"/>
<rect x="271.80" y="305.90" width="5.60" height="5.60" fill="#000000"/>
<rect x="297.50" y="306.70" width="5.60" height="5.60" fill="#000000"/>
<rect x="323.20" y="307.00" width="5.60" height="5.60" fill="#000000"/>
<rect x="348.90" y="307.20" width="5.60" height="5.60" fill="#000000"/>
<rect x="374.60" y="306.80" width="5.60" height="5.60" fill="#000000"/>
<rect x="400.30" y="305.90" width="5.60" height="5.60" fill="#000000"/>
<rect x="426.00" y="304.40" width="5.60" height="5.60" fill="#000000"/>
<path d="M94.70 176.20L95.13 177.78L95.56 179.36L95.99 180.93L96.41 182.49L96.84 184.04L97.27 185.58L97.70 187.12L98.13 188.64L98.56 190.16L98.57 190.22M100.12 195.61L100.27 196.13L100.70 197.60L101.13 199.06L101.55 200.50L101.98 201.94L102.41 203.36L102.84 204.77L103.27 206.17L103.70 207.55L104.12 208.93L104.25 209.33M105.96 214.66L106.27 215.59L106.69 216.89L107.12 218.16L107.55 219.43L107.98 220.67L108.41 221.90L108.83 223.12L109.26 224.32L109.69 225.50L110.12 226.67L110.54 227.79M112.57 233.01L112.69 233.31L113.12 234.35L113.55 235.38L113.97 236.38L114.40 237.37L114.83 238.34L115.26 239.28L115.69 240.21L116.12 241.12L116.54 242.00L116.97 242.87L117.40 243.71L117.83 244.53L117.90 244.66M120.72 249.49L120.83 249.67L121.26 250.33L121.69 250.99L122.11 251.63L122.54 252.27L122.97 252.89L123.40 253.51L123.83 254.12L124.26 254.72L124.68 255.32L125.11 255.90L125.54 256.48L125.97 257.05L126.40 257.61L126.83 258.16L127.15 258.57M130.73 262.88L131.11 263.31L131.54 263.78L131.97 264.26L132.39 264.72L132.82 265.18L133.25 265.63L133.68 266.08L134.11 266.52L134.53 266.96L134.96 267.39L135.39 267.82L135.82 268.24L136.25 268.65L136.68 269.07L137.10 269.47L137.53 269.87L137.62 269.95M141.82 273.66L142.24 274.01L142.67 274.37L143.10 274.72L143.53 275.07L143.96 275.41L144.39 275.76L144.81 276.10L145.24 276.43L145.67 276.77L146.10 277.10L146.53 277.43L146.96 277.76L147.39 278.08L147.81 278.40L148.24 278.72L148.67 279.04L148.94 279.23M153.53 282.43L153.81 282.61L154.24 282.89L154.67 283.17L155.10 283.44L155.52 283.72L155.95 283.99L156.38 284.26L156.81 284.52L157.24 284.79L157.67 285.05L158.09 285.31L158.52 285.56L158.95 285.82L159.38 286.07L159.81 286.32L160.23 286.57L160.66 286.81L160.73 286.85M165.65 289.52L165.80 289.59L166.23 289.81L166.66 290.03L167.09 290.24L167.52 290.46L167.94 290.67L168.37 290.88L168.80 291.09L169.23 291.30L169.66 291.50L170.09 291.70L170.51 291.90L170.94 292.10L171.37 292.30L171.80 292.50L172.23 292.70L172.66 292.89L172.89 292.99M178.04 295.18L178.23 295.26L178.65 295.43L179.08 295.60L179.51 295.77L179.94 295.94L180.37 296.10L180.80 296.27L181.22 296.43L181.65 296.60L182.08 296.76L182.51 296.92L182.94 297.08L183.37 297.24L183.79 297.39L184.22 297.55L184.65 297.70L185.08 297.86L185.30 297.94M190.59 299.76L190.65 299.78L191.07 299.92L191.50 300.07L191.93 300.21L192.36 300.35L192.79 300.49L193.22 300.63L193.64 300.77L194.07 300.91L194.50 301.04L194.93 301.18L195.36 301.32L195.79 301.46L196.21 301.59L196.64 301.73L197.07 301.86L197.50 302.00L197.87 302.12M203.22 303.77L203.50 303.86L203.93 303.98L204.35 304.11L204.78 304.24L205.21 304.37L205.64 304.49L206.07 304.62L206.50 304.75L206.92 304.87L207.35 305.00L207.78 305.12L208.21 305.24L208.64 305.37L209.07 305.49L209.49 305.61L209.92 305.73L210.35 305.85L210.48 305.89M215.89 307.34L215.92 307.35L216.35 307.46L216.77 307.57L217.20 307.67L217.63 307.78L218.06 307.89L218.49 307.99L218.92 308.10L219.34 308.20L219.77 308.31L220.20 308.41L220.63 308.51L221.06 308.61L221.49 308.71L221.91 308.81L222.34 308.91L222.77 309.00L223.14 309.09M228.62 310.26L228.77 310.29L229.20 310.38L229.63 310.47L230.05 310.56L230.48 310.64L230.91 310.73L231.34 310.81L231.77 310.90L232.20 310.98L232.62 311.07L233.05 311.15L233.48 311.23L233.91 311.31L234.34 311.40L234.77 311.48L235.19 311.56L235.62 311.64L235.87 311.68M241.38 312.67L241.62 312.71L242.05 312.78L242.47 312.86L242.90 312.93L243.33 313.00L243.76 313.07L244.19 313.14L244.62 313.22L245.04 313.29L245.47 313.36L245.90 313.42L246.33 313.49L246.76 313.56L247.19 313.63L247.61 313.70L248.04 313.77L248.47 313.83L248.64 313.86M254.18 314.68L254.47 314.72L254.90 314.78L255.33 314.84L255.75 314.90L256.18 314.96L256.61 315.02L257.04 315.08L257.47 315.14L257.90 315.19L258.32 315.25L258.75 315.31L259.18 315.37L259.61 315.42L260.04 315.48L260.47 315.53L260.89 315.59L261.32 315.65L261.43 315.66M266.99 316.36L267.32 316.40L267.75 316.46L268.17 316.51L268.60 316.56L269.03 316.61L269.46 316.67L269.89 316.72L270.32 316.77L270.74 316.83L271.17 316.88L271.60 316.93L272.03 316.98L272.46 317.04L272.89 317.09L273.31 317.14L273.74 317.19L274.17 317.25L274.24 317.26M279.80 317.94L280.17 317.98L280.60 318.03L281.03 318.08L281.45 318.13L281.88 318.18L282.31 318.24L282.74 318.29L283.17 318.34L283.60 318.39L284.02 318.44L284.45 318.49L284.88 318.54L285.31 318.59L285.74 318.64L286.17 318.69L286.59 318.74L287.02 318.79L287.06 318.80M292.62 319.44L293.02 319.48L293.45 319.53L293.87 319.58L294.30 319.63L294.73 319.68L295.16 319.72L295.59 319.77L296.02 319.82L296.44 319.87L296.87 319.92L297.30 319.97L297.73 320.01L298.16 320.06L298.59 320.11L299.01 320.16L299.44 320.20L299.87 320.25L299.88 320.25M305.44 320.85L305.87 320.90L306.30 320.94L306.73 320.99L307.15 321.03L307.58 321.08L308.01 321.12L308.44 321.17L308.87 321.21L309.30 321.26L309.72 321.30L310.15 321.34L310.58 321.39L311.01 321.43L311.44 321.47L311.87 321.52L312.29 321.56L312.70 321.60M318.27 322.18L318.29 322.18L318.72 322.22L319.15 322.27L319.57 322.31L320.00 322.36L320.43 322.40L320.86 322.45L321.29 322.49L321.72 322.54L322.14 322.58L322.57 322.63L323.00 322.67L323.43 322.72L323.86 322.77L324.29 322.81L324.71 322.86L325.14 322.91L325.53 322.95M331.09 323.62L331.14 323.63L331.57 323.69L332.00 323.74L332.43 323.80L332.85 323.86L333.28 323.91L333.71 323.97L334.14 324.03L334.57 324.09L335.00 324.15L335.42 324.21L335.85 324.26L336.28 324.32L336.71 324.38L337.14 324.44L337.57 324.50L337.99 324.55L338.34 324.60M343.90 325.30L343.99 325.31L344.42 325.36L344.85 325.41L345.27 325.45L345.70 325.50L346.13 325.54L346.56 325.59L346.99 325.63L347.42 325.67L347.84 325.71L348.27 325.75L348.70 325.78L349.13 325.82L349.56 325.85L349.99 325.89L350.41 325.92L350.84 325.95L351.14 325.97M356.74 326.26L356.84 326.26L357.27 326.28L357.70 326.30L358.13 326.32L358.55 326.34L358.98 326.36L359.41 326.37L359.84 326.39L360.27 326.41L360.70 326.42L361.12 326.44L361.55 326.46L361.98 326.47L362.41 326.49L362.84 326.50L363.27 326.52L363.69 326.53L363.98 326.54M369.58 326.73L369.69 326.73L370.12 326.75L370.55 326.76L370.97 326.77L371.40 326.79L371.83 326.80L372.26 326.82L372.69 326.83L373.12 326.85L373.54 326.86L373.97 326.88L374.40 326.89L374.83 326.91L375.26 326.92L375.69 326.94L376.11 326.95L376.54 326.97L376.83 326.98M382.43 327.19L382.54 327.20L382.97 327.22L383.40 327.23L383.83 327.25L384.25 327.27L384.68 327.28L385.11 327.30L385.54 327.32L385.97 327.33L386.40 327.35L386.82 327.37L387.25 327.38L387.68 327.40L388.11 327.42L388.54 327.43L388.97 327.45L389.39 327.47L389.68 327.48M395.28 327.70L395.39 327.70L395.82 327.72L396.25 327.73L396.67 327.75L397.10 327.77L397.53 327.78L397.96 327.80L398.39 327.82L398.82 327.83L399.24 327.85L399.67 327.87L400.10 327.88L400.53 327.90L400.96 327.92L401.39 327.93L401.81 327.95L402.24 327.97L402.52 327.98" fill="none" stroke="#00ff00" stroke-width="0.75"/>
<rect x="91.90" y="173.40" width="5.60" height="5.60" fill="none" stroke="#00ff00" stroke-width="0.78"/>
<rect x="117.60" y="246.20" width="5.60" height="5.60" fill="none" stroke="#00ff00" stroke-width="0.78"/>
<rect x="143.30" y="274.30" width="5.60" height="5.60" fill="none" stroke="#00ff00" stroke-width="0.78"/>
<rect x="169.00" y="289.70" width="5.60" height="5.60" fill="none" stroke="#00ff00" stroke-width="0.78"/>
<rect x="194.70" y="299.20" width="5.60" height="5.60" fill="none" stroke="#00ff00" stroke-width="0.78"/>
<rect x="220.40" y="306.30" width="5.60" height="5.60" fill="none" stroke="#00ff00" stroke-width="0.78"/>
<rect x="246.10" y="311.10" width="5.60" height="5.60" fill="none" stroke="#00ff00" stroke-width="0.78"/>
<rect x="271.80" y="314.50" width="5.60" height="5.60" fill="none" stroke="#00ff00" stroke-width="0.78"/>
<rect x="297.50" y="317.50" width="5.60" height="5.60" fill="none" stroke="#00ff00" stroke-width="0.78"/>
<rect x="323.20" y="320.20" width="5.60" height="5.60" fill="none" stroke="#00ff00" stroke-width="0.78"/>
<rect x="348.90" y="323.20" width="5.60" height="5.60" fill="none" stroke="#00ff00" stroke-width="0.78"/>
<rect x="374.60" y="324.20" width="5.60" height="5.60" fill="none" stroke="#00ff00" stroke-width="0.78"/>
<rect x="400.30" y="325.20" width="5.60" height="5.60" fill="none" stroke="#00ff00" stroke-width="0.78"/>
<path d="M94.70 157.00 C95.07 158.47 95.43 160.08 95.80 161.30 C100.70 177.63 105.60 189.88 110.50 200.00 C113.80 206.82 117.10 212.87 120.40 217.20 C128.97 228.45 137.53 235.93 146.10 242.60 C154.67 249.27 163.23 254.58 171.80 259.10 C180.37 263.62 188.93 267.30 197.50 270.60 C206.07 273.90 214.63 276.84 223.20 279.30 C231.77 281.76 240.33 283.69 248.90 285.70 C257.47 287.71 266.03 289.81 274.60 291.40 C283.17 292.99 291.73 294.39 300.30 295.50 C308.87 296.61 317.43 297.46 326.00 298.30 C334.57 299.14 343.13 300.20 351.70 300.60 C360.27 301.00 368.83 301.40 377.40 301.40 C385.97 301.40 394.53 301.40 403.10 301.40" fill="none" stroke="#00ff00" stroke-width="0.75"/>
<rect x="91.90" y="154.20" width="5.60" height="5.60" fill="#00ff00"/>
<rect x="117.60" y="214.40" width="5.60" height="5.60" fill="#00ff00"/>
<rect x="143.30" y="239.80" width="5.60" height="5.60" fill="#00ff00"/>
<rect x="169.00" y="256.30" width="5.60" height="5.60" fill="#00ff00"/>
<rect x="194.70" y="267.80" width="5.60" height="5.60" fill="#00ff00"/>
<rect x="220.40" y="276.50" width="5.60" height="5.60" fill="#00ff00"/>
<rect x="246.10" y="282.90" width="5.60" height="5.60" fill="#00ff00"/>
<rect x="271.80" y="288.60" width="5.60" height="5.60" fill="#00ff00"/>
<rect x="297.50" y="292.70" width="5.60" height="5.60" fill="#00ff00"/>
<rect x="323.20" y="295.50" width="5.60" height="5.60" fill="#00ff00"/>
<rect x="348.90" y="297.80" width="5.60" height="5.60" fill="#00ff00"/>
<rect x="374.60" y="298.60" width="5.60" height="5.60" fill="#00ff00"/>
<rect x="400.30" y="298.60" width="5.60" height="5.60" fill="#00ff00"/>
<path d="M94.70 149.50L94.76 149.70L94.82 149.90L94.88 150.11L94.95 150.31L95.01 150.51L95.07 150.71L95.13 150.92L95.19 151.12L95.25 151.32L95.32 151.52L95.38 151.72L95.44 151.93L95.50 152.13L95.56 152.33L95.62 152.53L95.69 152.73L95.75 152.93L95.81 153.13L95.87 153.33L95.93 153.53L95.99 153.74L96.06 153.94L96.12 154.14L96.18 154.33L96.24 154.53L96.30 154.73L96.36 154.93L96.43 155.13L96.49 155.33L96.55 155.53L96.61 155.73L96.67 155.92L96.74 156.12L96.80 156.32L96.86 156.51L96.92 156.71L96.98 156.91L97.04 157.10L97.11 157.30L97.17 157.49L97.23 157.69L97.29 157.88L97.35 158.07L97.41 158.27L97.48 158.46L97.54 158.65L97.60 158.85L97.66 159.04L97.72 159.23L97.78 159.42L97.85 159.61L97.91 159.80L97.97 159.99L98.03 160.18L98.09 160.37L98.15 160.55L98.22 160.74L98.28 160.93L98.34 161.11L98.40 161.30L98.61 161.95L98.83 162.59L98.98 163.05M100.77 168.36L100.98 168.98L101.20 169.61L101.41 170.24L101.63 170.87L101.84 171.50L102.06 172.12L102.27 172.75L102.48 173.37L102.70 173.99L102.91 174.61L103.13 175.23L103.35 175.85L103.56 176.46L103.77 177.07L103.99 177.68L104.21 178.29L104.42 178.90L104.63 179.50L104.85 180.11L105.06 180.71L105.28 181.31L105.36 181.54M107.29 186.80L107.43 187.18L107.64 187.75L107.86 188.32L108.07 188.89L108.29 189.46L108.50 190.02L108.72 190.58L108.94 191.14L109.15 191.70L109.37 192.25L109.58 192.80L109.79 193.35L110.01 193.89L110.22 194.43L110.44 194.97L110.66 195.51L110.87 196.04L111.08 196.57L111.30 197.10L111.45 197.47L111.60 197.84L111.75 198.21L111.91 198.59L112.06 198.96L112.21 199.33L112.26 199.46M114.38 204.64L114.48 204.88L114.64 205.25L114.79 205.61L114.94 205.97L115.09 206.33L115.24 206.68L115.39 207.04L115.55 207.39L115.70 207.75L115.85 208.09L116.00 208.44L116.15 208.79L116.31 209.13L116.46 209.47L116.61 209.81L116.76 210.15L116.91 210.48L117.06 210.81L117.22 211.14L117.37 211.46L117.52 211.78L117.67 212.10L117.82 212.42L117.97 212.73L118.13 213.04L118.28 213.34L118.43 213.65L118.58 213.94L118.73 214.24L118.88 214.53L119.04 214.81L119.19 215.10L119.34 215.37L119.49 215.65L119.64 215.92L119.74 216.09M122.73 220.82L122.97 221.19L123.40 221.82L123.83 222.45L124.26 223.07L124.68 223.68L125.11 224.28L125.54 224.88L125.97 225.46L126.40 226.05L126.83 226.62L127.25 227.19L127.68 227.75L128.11 228.30L128.54 228.85L128.97 229.39L129.23 229.72M132.84 234.01L133.25 234.48L133.68 234.96L134.11 235.43L134.53 235.90L134.96 236.37L135.39 236.83L135.82 237.29L136.25 237.74L136.68 238.19L137.10 238.64L137.53 239.08L137.96 239.52L138.39 239.96L138.82 240.39L139.25 240.82L139.67 241.25L139.75 241.33M143.78 245.22L143.96 245.39L144.39 245.79L144.81 246.20L145.24 246.60L145.67 247.00L146.10 247.40L146.53 247.80L146.96 248.20L147.39 248.59L147.81 248.98L148.24 249.37L148.67 249.76L149.10 250.14L149.53 250.53L149.96 250.91L150.38 251.28L150.81 251.66L150.84 251.68M155.11 255.30L155.52 255.64L155.95 255.99L156.38 256.33L156.81 256.68L157.24 257.02L157.67 257.36L158.09 257.69L158.52 258.03L158.95 258.36L159.38 258.69L159.81 259.02L160.23 259.34L160.66 259.67L161.09 259.99L161.52 260.31L161.95 260.62L162.25 260.85M166.83 264.07L167.09 264.25L167.52 264.54L167.94 264.82L168.37 265.11L168.80 265.39L169.23 265.67L169.66 265.95L170.09 266.22L170.51 266.49L170.94 266.76L171.37 267.03L171.80 267.30L172.23 267.56L172.66 267.83L173.09 268.09L173.51 268.35L173.94 268.61L174.04 268.67M178.88 271.48L179.08 271.59L179.51 271.83L179.94 272.07L180.37 272.30L180.80 272.54L181.22 272.77L181.65 273.00L182.08 273.23L182.51 273.46L182.94 273.69L183.37 273.91L183.79 274.14L184.22 274.36L184.65 274.58L185.08 274.80L185.51 275.02L185.93 275.24L186.12 275.33M191.16 277.78L191.50 277.94L191.93 278.14L192.36 278.33L192.79 278.53L193.22 278.72L193.64 278.92L194.07 279.11L194.50 279.30L194.93 279.49L195.36 279.68L195.79 279.86L196.21 280.05L196.64 280.23L197.07 280.42L197.50 280.60L197.93 280.78L198.36 280.96L198.42 280.99M203.61 283.08L203.93 283.20L204.35 283.37L204.78 283.53L205.21 283.69L205.64 283.86L206.07 284.02L206.50 284.18L206.92 284.34L207.35 284.50L207.78 284.65L208.21 284.81L208.64 284.97L209.07 285.12L209.49 285.28L209.92 285.43L210.35 285.58L210.78 285.73L210.87 285.77M216.17 287.57L216.35 287.63L216.77 287.77L217.20 287.91L217.63 288.05L218.06 288.19L218.49 288.33L218.92 288.46L219.34 288.60L219.77 288.74L220.20 288.87L220.63 289.01L221.06 289.14L221.49 289.27L221.91 289.41L222.34 289.54L222.77 289.67L223.20 289.80L223.44 289.87M228.81 291.46L229.20 291.57L229.63 291.69L230.05 291.82L230.48 291.94L230.91 292.06L231.34 292.18L231.77 292.30L232.20 292.42L232.62 292.53L233.05 292.65L233.48 292.77L233.91 292.88L234.34 293.00L234.77 293.12L235.19 293.23L235.62 293.35L236.05 293.46L236.07 293.46M241.50 294.85L241.62 294.88L242.05 294.99L242.47 295.09L242.90 295.20L243.33 295.30L243.76 295.41L244.19 295.51L244.62 295.61L245.04 295.71L245.47 295.81L245.90 295.91L246.33 296.01L246.76 296.11L247.19 296.21L247.61 296.31L248.04 296.41L248.47 296.50L248.76 296.57M254.23 297.77L254.47 297.82L254.90 297.92L255.33 298.01L255.75 298.10L256.18 298.19L256.61 298.28L257.04 298.37L257.47 298.46L257.90 298.55L258.32 298.64L258.75 298.73L259.18 298.82L259.61 298.90L260.04 298.99L260.47 299.08L260.89 299.16L261.32 299.25L261.48 299.28M266.98 300.33L267.32 300.39L267.75 300.46L268.17 300.54L268.60 300.62L269.03 300.69L269.46 300.77L269.89 300.84L270.32 300.91L270.74 300.98L271.17 301.06L271.60 301.13L272.03 301.20L272.46 301.27L272.89 301.33L273.31 301.40L273.74 301.47L274.17 301.53L274.24 301.54M279.78 302.36L280.17 302.42L280.60 302.48L281.03 302.54L281.45 302.60L281.88 302.66L282.31 302.72L282.74 302.78L283.17 302.84L283.60 302.89L284.02 302.95L284.45 303.01L284.88 303.07L285.31 303.12L285.74 303.18L286.17 303.23L286.59 303.29L287.02 303.34L287.03 303.35M292.59 304.01L292.59 304.01L293.02 304.06L293.45 304.11L293.87 304.16L294.30 304.20L294.73 304.25L295.16 304.30L295.59 304.34L296.02 304.39L296.44 304.43L296.87 304.47L297.30 304.52L297.73 304.56L298.16 304.60L298.59 304.64L299.01 304.68L299.44 304.72L299.82 304.76" fill="none" stroke="#ff0000" stroke-width="0.75"/>
<rect x="91.90" y="146.70" width="5.60" height="5.60" fill="none" stroke="#ff0000" stroke-width="0.78"/>
<rect x="117.60" y="214.40" width="5.60" height="5.60" fill="none" stroke="#ff0000" stroke-width="0.78"/>
<rect x="143.30" y="244.60" width="5.60" height="5.60" fill="none" stroke="#ff0000" stroke-width="0.78"/>
<rect x="169.00" y="264.50" width="5.60" height="5.60" fill="none" stroke="#ff0000" stroke-width="0.78"/>
<rect x="194.70" y="277.80" width="5.60" height="5.60" fill="none" stroke="#ff0000" stroke-width="0.78"/>
<rect x="220.40" y="287.00" width="5.60" height="5.60" fill="none" stroke="#ff0000" stroke-width="0.78"/>
<rect x="246.10" y="293.80" width="5.60" height="5.60" fill="none" stroke="#ff0000" stroke-width="0.78"/>
<rect x="271.80" y="298.80" width="5.60" height="5.60" fill="none" stroke="#ff0000" stroke-width="0.78"/>
<rect x="297.50" y="302.00" width="5.60" height="5.60" fill="none" stroke="#ff0000" stroke-width="0.78"/>
<path d="M94.70 125.00 C98.23 139.56 101.77 152.01 105.30 161.30 C108.17 168.84 111.03 174.82 113.90 179.90 C116.07 183.74 118.23 187.15 120.40 189.80 C128.97 200.26 137.53 207.46 146.10 214.00 C154.67 220.54 163.23 225.78 171.80 230.50 C180.37 235.22 188.93 239.05 197.50 242.90 C206.07 246.75 214.63 250.41 223.20 253.70 C231.77 256.99 240.33 260.16 248.90 262.80 C257.47 265.44 266.03 267.48 274.60 269.80 C283.17 272.12 291.73 274.42 300.30 276.70" fill="none" stroke="#ff0000" stroke-width="0.75"/>
<rect x="91.90" y="122.20" width="5.60" height="5.60" fill="#ff0000"/>
<rect x="117.60" y="187.00" width="5.60" height="5.60" fill="#ff0000"/>
<rect x="143.30" y="211.20" width="5.60" height="5.60" fill="#ff0000"/>
<rect x="169.00" y="227.70" width="5.60" height="5.60" fill="#ff0000"/>
<rect x="194.70" y="240.10" width="5.60" height="5.60" fill="#ff0000"/>
<rect x="220.40" y="250.90" width="5.60" height="5.60" fill="#ff0000"/>
<rect x="246.10" y="260.00" width="5.60" height="5.60" fill="#ff0000"/>
<rect x="271.80" y="267.00" width="5.60" height="5.60" fill="#ff0000"/>
<rect x="297.50" y="273.90" width="5.60" height="5.60" fill="#ff0000"/>
<path d="M94.70 132.00L94.86 132.52L95.02 133.04L95.18 133.56L95.35 134.08L95.51 134.59L95.67 135.11L95.83 135.62L95.99 136.14L96.15 136.65L96.32 137.16L96.48 137.67L96.64 138.17L96.80 138.68L96.96 139.18L97.12 139.69L97.29 140.19L97.45 140.69L97.61 141.19L97.77 141.69L97.93 142.19L98.09 142.69L98.26 143.19L98.42 143.68L98.58 144.17L98.74 144.67L98.90 145.16L99.02 145.53M100.80 150.84L100.84 150.98L101.01 151.46L101.17 151.93L101.33 152.41L101.49 152.89L101.65 153.36L101.81 153.84L101.98 154.31L102.14 154.78L102.30 155.25L102.46 155.72L102.62 156.19L102.78 156.66L102.95 157.13L103.11 157.59L103.27 158.06L103.43 158.53L103.59 158.99L103.75 159.45L103.92 159.92L104.08 160.38L104.24 160.84L104.40 161.30L104.47 161.50L104.54 161.71L104.61 161.91L104.69 162.12L104.76 162.32L104.83 162.53L104.90 162.74L104.97 162.94L105.04 163.15L105.12 163.35L105.19 163.56L105.26 163.77L105.33 163.97L105.36 164.07M107.24 169.35L107.27 169.41L107.34 169.60L107.41 169.79L107.48 169.98L107.55 170.17L107.63 170.35L107.70 170.54L107.77 170.72L107.84 170.91L107.91 171.09L107.98 171.27L108.06 171.45L108.13 171.63L108.20 171.81L108.27 171.98L108.34 172.15L108.41 172.33L108.49 172.50L108.56 172.67L108.63 172.83L108.70 173.00L108.80 173.23L108.90 173.47L109.00 173.70L109.11 173.92L109.21 174.15L109.31 174.38L109.41 174.60L109.51 174.82L109.61 175.04L109.72 175.26L109.82 175.48L109.92 175.69L110.02 175.91L110.12 176.12L110.22 176.33L110.33 176.54L110.43 176.75L110.53 176.96L110.63 177.16L110.73 177.37L110.83 177.57L110.94 177.78L111.04 177.98L111.14 178.18L111.24 178.38L111.34 178.58L111.44 178.78L111.55 178.97L111.65 179.17L111.75 179.36L111.85 179.56L111.95 179.75L112.06 179.94L112.16 180.14L112.26 180.33L112.36 180.52L112.46 180.71L112.56 180.90L112.64 181.03M115.32 185.95L115.36 186.03L115.45 186.20L115.55 186.37L115.64 186.54L115.73 186.71L115.83 186.88L115.92 187.05L116.01 187.22L116.11 187.39L116.20 187.56L116.29 187.73L116.39 187.90L116.48 188.07L116.57 188.24L116.67 188.41L116.76 188.58L116.85 188.75L116.95 188.91L117.04 189.08L117.13 189.25L117.23 189.41L117.32 189.58L117.41 189.75L117.51 189.91L117.60 190.07L117.69 190.24L117.79 190.40L117.88 190.56L117.97 190.72L118.07 190.88L118.16 191.04L118.25 191.20L118.35 191.36L118.44 191.52L118.53 191.68L118.63 191.83L118.72 191.99L118.81 192.14L118.91 192.29L119.00 192.45L119.09 192.60L119.19 192.75L119.28 192.90L119.37 193.05L119.47 193.19L119.56 193.34L119.65 193.48L119.75 193.63L119.84 193.77L119.93 193.91L120.03 194.05L120.12 194.19L120.21 194.33L120.31 194.46L120.40 194.60L120.83 195.22L121.26 195.83L121.39 196.02M124.69 200.55L125.11 201.11L125.54 201.68L125.97 202.24L126.40 202.79L126.83 203.35L127.25 203.89L127.68 204.44L128.11 204.98L128.54 205.51L128.97 206.04L129.40 206.57L129.82 207.09L130.25 207.61L130.68 208.13L131.11 208.64L131.37 208.95M135.06 213.17L135.39 213.54L135.82 214.01L136.25 214.48L136.68 214.95L137.10 215.41L137.53 215.87L137.96 216.32L138.39 216.77L138.82 217.22L139.25 217.66L139.67 218.11L140.10 218.55L140.53 218.98L140.96 219.42L141.39 219.85L141.82 220.27L141.98 220.44M146.02 224.32L146.10 224.40L146.53 224.80L146.96 225.19L147.39 225.59L147.81 225.98L148.24 226.37L148.67 226.75L149.10 227.13L149.53 227.51L149.96 227.89L150.38 228.26L150.81 228.64L151.24 229.01L151.67 229.37L152.10 229.74L152.53 230.10L152.95 230.46L153.10 230.58M157.44 234.11L157.67 234.28L158.09 234.61L158.52 234.95L158.95 235.28L159.38 235.61L159.81 235.94L160.23 236.26L160.66 236.58L161.09 236.91L161.52 237.23L161.95 237.55L162.38 237.86L162.80 238.18L163.23 238.49L163.66 238.81L164.09 239.12L164.52 239.43L164.63 239.50M169.20 242.73L169.23 242.75L169.66 243.04L170.09 243.33L170.51 243.63L170.94 243.92L171.37 244.21L171.80 244.50L172.23 244.79L172.66 245.08L173.09 245.36L173.51 245.65L173.94 245.93L174.37 246.21L174.80 246.49L175.23 246.77L175.66 247.05L176.08 247.33L176.43 247.55M181.17 250.52L181.22 250.55L181.65 250.81L182.08 251.07L182.51 251.33L182.94 251.59L183.37 251.84L183.79 252.10L184.22 252.35L184.65 252.61L185.08 252.86L185.51 253.11L185.93 253.36L186.36 253.61L186.79 253.86L187.22 254.11L187.65 254.35L188.08 254.60L188.42 254.80M193.31 257.53L193.64 257.72L194.07 257.95L194.50 258.18L194.93 258.42L195.36 258.65L195.79 258.88L196.21 259.11L196.64 259.34L197.07 259.57L197.50 259.80L197.93 260.03L198.36 260.26L198.79 260.48L199.21 260.71L199.64 260.93L200.07 261.16L200.50 261.38L200.58 261.43M205.56 263.98L205.64 264.02L206.07 264.23L206.50 264.45L206.92 264.66L207.35 264.88L207.78 265.09L208.21 265.30L208.64 265.51L209.07 265.72L209.49 265.93L209.92 266.14L210.35 266.35L210.78 266.55L211.21 266.76L211.63 266.96L212.06 267.17L212.49 267.37L212.83 267.53M217.91 269.88L218.06 269.95L218.49 270.14L218.92 270.33L219.34 270.52L219.77 270.71L220.20 270.90L220.63 271.09L221.06 271.28L221.49 271.46L221.91 271.65L222.34 271.83L222.77 272.02L223.20 272.20" fill="none" stroke="#0000ff" stroke-width="0.75"/>
<rect x="91.90" y="129.20" width="5.60" height="5.60" fill="none" stroke="#0000ff" stroke-width="0.78"/>
<rect x="117.60" y="191.80" width="5.60" height="5.60" fill="none" stroke="#0000ff" stroke-width="0.78"/>
<rect x="143.30" y="221.60" width="5.60" height="5.60" fill="none" stroke="#0000ff" stroke-width="0.78"/>
<rect x="169.00" y="241.70" width="5.60" height="5.60" fill="none" stroke="#0000ff" stroke-width="0.78"/>
<rect x="194.70" y="257.00" width="5.60" height="5.60" fill="none" stroke="#0000ff" stroke-width="0.78"/>
<rect x="220.40" y="269.40" width="5.60" height="5.60" fill="none" stroke="#0000ff" stroke-width="0.78"/>
<path d="M94.70 100.00 C100.80 128.12 106.90 148.83 113.00 161.30 C115.47 166.34 117.93 170.09 120.40 173.00 C128.97 183.12 137.53 189.02 146.10 195.20 C154.67 201.38 163.23 206.56 171.80 211.10 C180.37 215.64 188.93 219.34 197.50 223.00 C206.07 226.66 214.63 230.08 223.20 233.20" fill="none" stroke="#0000ff" stroke-width="0.75"/>
<rect x="91.90" y="97.20" width="5.60" height="5.60" fill="#0000ff"/>
<rect x="117.60" y="170.20" width="5.60" height="5.60" fill="#0000ff"/>
<rect x="143.30" y="192.40" width="5.60" height="5.60" fill="#0000ff"/>
<rect x="169.00" y="208.30" width="5.60" height="5.60" fill="#0000ff"/>
<rect x="194.70" y="220.20" width="5.60" height="5.60" fill="#0000ff"/>
<rect x="220.40" y="230.40" width="5.60" height="5.60" fill="#0000ff"/>
</g>
<g clip-path="url(#cp2)">
<path d="M94.70 305.00L94.73 305.28L94.77 305.57L94.81 305.85L94.84 306.13L94.87 306.42L94.91 306.70L94.94 306.98L94.98 307.27L95.02 307.55L95.05 307.83L95.09 308.12L95.12 308.40L95.16 308.68L95.19 308.97L95.23 309.25L95.26 309.54L95.30 309.82L95.33 310.10L95.36 310.39L95.40 310.67L95.43 310.95L95.47 311.24L95.51 311.52L95.54 311.80L95.57 312.08L95.61 312.37L95.65 312.65L95.68 312.93L95.71 313.21L95.75 313.49L95.79 313.78L95.82 314.06L95.86 314.34L95.89 314.62L95.93 314.90L95.96 315.18L96.00 315.46L96.03 315.74L96.06 316.02L96.10 316.30L96.14 316.58L96.17 316.86L96.20 317.13L96.24 317.41L96.28 317.69L96.31 317.97L96.34 318.24L96.38 318.52L96.41 318.79L96.45 319.07L96.48 319.35L96.52 319.62L96.55 319.89L96.59 320.17L96.62 320.39M97.33 325.95L97.47 327.02L97.69 328.78L97.92 330.55L98.14 332.32L98.36 334.10L98.59 335.88L98.81 337.67L99.03 339.47L99.26 341.26L99.27 341.34M99.96 346.90L100.15 348.48L100.37 350.28L100.60 352.09L100.82 353.89L101.04 355.69L101.27 357.49L101.49 359.29L101.71 361.08L101.87 362.29M102.56 367.85L102.61 368.20L102.83 369.97L103.05 371.72L103.28 373.47L103.50 375.21L103.72 376.94L103.95 378.66L104.17 380.37L104.39 382.07L104.54 383.21M105.29 388.76L105.51 390.36L105.73 391.98L105.96 393.57L106.18 395.16L106.40 396.72L106.63 398.27L106.85 399.79L107.07 401.30L107.30 402.79L107.48 404.01M108.35 409.54L108.41 409.90L108.64 411.26L108.86 412.58L109.08 413.89L109.31 415.16L109.53 416.42L109.75 417.64L109.98 418.83L110.20 420.00L110.37 420.87L110.54 421.73L110.71 422.58L110.88 423.42L111.05 424.26L111.09 424.45M112.26 429.92L112.41 430.58L112.58 431.34L112.75 432.08L112.92 432.82L113.09 433.55L113.26 434.28L113.43 435.00L113.60 435.71L113.77 436.41L113.94 437.11L114.11 437.81L114.28 438.50L114.45 439.18L114.62 439.86L114.79 440.53L114.96 441.20L115.13 441.86L115.30 442.52L115.47 443.18L115.64 443.83L115.75 444.26M117.20 449.67L117.34 450.18L117.51 450.81L117.68 451.43L117.85 452.05L118.02 452.67L118.19 453.29L118.36 453.91L118.53 454.53L118.70 455.15L118.87 455.77L119.04 456.39L119.21 457.01L119.38 457.64L119.55 458.26L119.72 458.88L119.89 459.51L120.06 460.14L120.23 460.77L120.40 461.40L120.50 461.78L120.61 462.17L120.71 462.55L120.81 462.93L120.92 463.31L121.02 463.69L121.04 463.75M122.53 469.15L122.57 469.29L122.67 469.66L122.78 470.02L122.88 470.39L122.98 470.75L123.09 471.11L123.19 471.47L123.29 471.84L123.40 472.20L123.50 472.56L123.60 472.92L123.71 473.27L123.81 473.63L123.91 473.99L124.02 474.34L124.12 474.70L124.22 475.05L124.33 475.41L124.43 475.76L124.53 476.11L124.64 476.46L124.74 476.81L124.84 477.16L124.95 477.51L125.05 477.86L125.15 478.21L125.26 478.55L125.36 478.90L125.46 479.25L125.57 479.59L125.67 479.93L125.77 480.28L125.88 480.62L125.98 480.96L126.01 481.08" fill="none" stroke="#000000" stroke-width="0.75"/>
<rect x="91.90" y="302.20" width="5.60" height="5.60" fill="none" stroke="#000000" stroke-width="0.78"/>
<rect x="117.60" y="458.60" width="5.60" height="5.60" fill="none" stroke="#000000" stroke-width="0.78"/>
<path d="M94.70 268.00 C98.30 287.18 101.90 305.41 105.50 321.80 C110.47 344.41 115.43 368.26 120.40 383.70 C125.27 398.83 130.13 409.97 135.00 420.00 C138.70 427.63 142.40 434.07 146.10 439.80 C154.67 453.07 163.23 463.83 171.80 473.80 C174.53 476.98 177.27 479.80 180.00 482.60 C185.83 488.57 191.67 494.29 197.50 499.50" fill="none" stroke="#000000" stroke-width="0.75"/>
<rect x="91.90" y="265.20" width="5.60" height="5.60" fill="#000000"/>
<rect x="117.60" y="380.90" width="5.60" height="5.60" fill="#000000"/>
<rect x="143.30" y="437.00" width="5.60" height="5.60" fill="#000000"/>
<rect x="169.00" y="471.00" width="5.60" height="5.60" fill="#000000"/>
<rect x="194.70" y="496.70" width="5.60" height="5.60" fill="#000000"/>
<path d="M94.70 233.00L94.99 234.61L95.29 236.22L95.58 237.82L95.88 239.41L96.17 241.00L96.47 242.59L96.76 244.17L97.06 245.75L97.35 247.32L97.47 247.93M98.51 253.44L98.54 253.55L98.83 255.10L99.12 256.65L99.42 258.18L99.71 259.72L100.01 261.25L100.31 262.77L100.60 264.29L100.89 265.81L101.19 267.32L101.38 268.30M102.46 273.80L102.67 274.81L102.96 276.30L103.25 277.78L103.55 279.26L103.84 280.73L104.14 282.20L104.44 283.67L104.73 285.13L105.03 286.59L105.32 288.04L105.43 288.60M106.56 294.09L106.80 295.25L107.09 296.68L107.38 298.10L107.68 299.53L107.97 300.94L108.27 302.36L108.56 303.77L108.86 305.18L109.16 306.58L109.45 307.98L109.63 308.81M110.79 314.29L110.93 314.93L111.22 316.31L111.52 317.69L111.81 319.06L112.11 320.43L112.40 321.80L112.53 322.42L112.67 323.04L112.80 323.66L112.93 324.28L113.07 324.91L113.20 325.54L113.33 326.17L113.47 326.80L113.60 327.43L113.73 328.06L113.87 328.69L113.93 328.98M115.09 334.46L115.20 335.00L115.33 335.62L115.47 336.25L115.60 336.87L115.73 337.49L115.87 338.11L116.00 338.73L116.13 339.34L116.27 339.96L116.40 340.57L116.53 341.17L116.67 341.78L116.80 342.38L116.93 342.97L117.07 343.57L117.20 344.15L117.33 344.74L117.47 345.32L117.60 345.90L117.73 346.47L117.87 347.04L118.00 347.60L118.13 348.16L118.27 348.71L118.33 348.98M119.73 354.40L119.87 354.87L120.00 355.34L120.13 355.80L120.27 356.25L120.40 356.70L120.83 358.11L121.26 359.50L121.69 360.88L122.11 362.24L122.54 363.58L122.97 364.91L123.40 366.23L123.83 367.52L123.98 367.97M125.79 373.27L125.97 373.80L126.40 375.01L126.83 376.21L127.25 377.39L127.68 378.57L128.11 379.73L128.54 380.87L128.97 382.01L129.40 383.13L129.82 384.24L130.25 385.34L130.57 386.15M132.67 391.34L132.82 391.71L133.25 392.73L133.68 393.75L134.11 394.75L134.53 395.75L134.96 396.74L135.39 397.72L135.82 398.69L136.25 399.65L136.68 400.60L137.10 401.55L137.53 402.48L137.96 403.41L137.96 403.42M140.35 408.49L140.53 408.86L140.96 409.74L141.39 410.62L141.82 411.50L142.24 412.36L142.67 413.23L143.10 414.09L143.53 414.94L143.96 415.80L144.39 416.64L144.81 417.49L145.24 418.33L145.67 419.17L146.04 419.88M148.64 424.83L148.67 424.88L149.10 425.67L149.53 426.46L149.96 427.23L150.38 428.01L150.81 428.77L151.24 429.54L151.67 430.29L152.10 431.04L152.53 431.79L152.95 432.53L153.38 433.26L153.81 433.99L154.24 434.71L154.66 435.42M157.58 440.20L157.67 440.34L158.09 441.02L158.52 441.70L158.95 442.38L159.38 443.05L159.81 443.72L160.23 444.38L160.66 445.04L161.09 445.70L161.52 446.35L161.95 447.01L162.38 447.65L162.80 448.30L163.23 448.94L163.66 449.58L163.93 449.97M167.09 454.60L167.09 454.60L167.52 455.21L167.94 455.83L168.37 456.44L168.80 457.05L169.23 457.67L169.66 458.27L170.09 458.88L170.51 459.49L170.94 460.09L171.37 460.70L171.80 461.30L172.06 461.67L172.33 462.04L172.59 462.41L172.86 462.78L173.12 463.14L173.39 463.50L173.60 463.79M176.98 468.26L177.10 468.41L177.37 468.76L177.63 469.10L177.90 469.43L178.16 469.77L178.42 470.11L178.69 470.44L178.96 470.78L179.22 471.11L179.48 471.44L179.75 471.77L180.01 472.11L180.28 472.44L180.55 472.77L180.81 473.09L181.07 473.42L181.34 473.75L181.60 474.08L181.87 474.40L182.13 474.73L182.40 475.05L182.66 475.38L182.93 475.70L183.19 476.02L183.46 476.35L183.72 476.67L183.74 476.68M187.30 481.01L187.44 481.18L187.70 481.50L187.86 481.70L188.03 481.90L188.19 482.09L188.35 482.29L188.52 482.49L188.68 482.69L188.84 482.88L189.01 483.08L189.17 483.28L189.33 483.47L189.50 483.67L189.66 483.86L189.82 484.06L189.99 484.26L190.15 484.45L190.31 484.64L190.48 484.84L190.64 485.03L190.80 485.23L190.97 485.42L191.13 485.62L191.29 485.81L191.46 486.00L191.62 486.19L191.78 486.39L191.95 486.58L192.11 486.77L192.27 486.96L192.44 487.16L192.60 487.35L192.76 487.54L192.93 487.73L193.09 487.92L193.25 488.11L193.42 488.30L193.58 488.49L193.74 488.68L193.91 488.87L194.06 489.05" fill="none" stroke="#00ff00" stroke-width="0.75"/>
<rect x="91.90" y="230.20" width="5.60" height="5.60" fill="none" stroke="#00ff00" stroke-width="0.78"/>
<rect x="117.60" y="353.90" width="5.60" height="5.60" fill="none" stroke="#00ff00" stroke-width="0.78"/>
<rect x="143.30" y="417.20" width="5.60" height="5.60" fill="none" stroke="#00ff00" stroke-width="0.78"/>
<rect x="169.00" y="458.50" width="5.60" height="5.60" fill="none" stroke="#00ff00" stroke-width="0.78"/>
<rect x="194.70" y="490.20" width="5.60" height="5.60" fill="none" stroke="#00ff00" stroke-width="0.78"/>
<path d="M120.40 294.60 C124.93 304.10 129.47 313.17 134.00 321.80 C138.03 329.48 142.07 337.35 146.10 343.80 C154.67 357.49 163.23 369.27 171.80 379.40 C180.37 389.53 188.93 397.99 197.50 405.90 C206.07 413.81 214.63 420.95 223.20 427.40 C231.77 433.85 240.33 439.45 248.90 445.00 C257.47 450.55 266.03 456.07 274.60 460.80 C283.17 465.53 291.73 469.70 300.30 473.70 C307.07 476.86 313.83 479.68 320.60 482.60 C322.40 483.38 324.20 484.14 326.00 484.90" fill="none" stroke="#00ff00" stroke-width="0.75"/>
<rect x="117.60" y="291.80" width="5.60" height="5.60" fill="#00ff00"/>
<rect x="143.30" y="341.00" width="5.60" height="5.60" fill="#00ff00"/>
<rect x="169.00" y="376.60" width="5.60" height="5.60" fill="#00ff00"/>
<rect x="194.70" y="403.10" width="5.60" height="5.60" fill="#00ff00"/>
<rect x="220.40" y="424.60" width="5.60" height="5.60" fill="#00ff00"/>
<rect x="246.10" y="442.20" width="5.60" height="5.60" fill="#00ff00"/>
<rect x="271.80" y="458.00" width="5.60" height="5.60" fill="#00ff00"/>
<rect x="297.50" y="470.90" width="5.60" height="5.60" fill="#00ff00"/>
<rect x="323.20" y="482.10" width="5.60" height="5.60" fill="#00ff00"/>
<path d="M120.40 293.00L120.59 293.51L120.78 294.01L120.97 294.51L121.16 295.02L121.35 295.52L121.54 296.02L121.73 296.52L121.92 297.02L122.11 297.52L122.30 298.02L122.49 298.52L122.68 299.02L122.87 299.51L123.06 300.01L123.25 300.50L123.44 301.00L123.63 301.49L123.82 301.98L124.01 302.47L124.20 302.96L124.39 303.45L124.58 303.94L124.77 304.43L124.96 304.92L125.15 305.40L125.30 305.78M127.36 310.99L127.43 311.16L127.62 311.64L127.81 312.11L128.00 312.58L128.19 313.05L128.38 313.52L128.57 313.99L128.76 314.46L128.95 314.93L129.14 315.39L129.33 315.86L129.52 316.32L129.71 316.78L129.90 317.24L130.09 317.70L130.28 318.16L130.47 318.62L130.66 319.08L130.85 319.54L131.04 319.99L131.23 320.44L131.42 320.90L131.61 321.35L131.80 321.80L132.04 322.36L132.28 322.93L132.49 323.42M134.68 328.57L134.90 329.08L135.14 329.64L135.38 330.19L135.61 330.74L135.85 331.29L136.09 331.85L136.33 332.39L136.57 332.94L136.81 333.49L137.04 334.04L137.28 334.58L137.52 335.12L137.76 335.67L138.00 336.21L138.24 336.75L138.47 337.28L138.71 337.82L138.95 338.36L139.19 338.89L139.43 339.42L139.66 339.95L139.90 340.48L139.99 340.68M142.33 345.76L142.52 346.17L142.76 346.67L143.00 347.18L143.24 347.68L143.48 348.18L143.72 348.67L143.95 349.17L144.19 349.66L144.43 350.15L144.67 350.63L144.91 351.12L145.15 351.60L145.38 352.08L145.62 352.55L145.86 353.03L146.10 353.50L146.53 354.34L146.96 355.18L147.39 356.02L147.81 356.86L147.99 357.21M150.57 362.18L150.81 362.63L151.24 363.45L151.67 364.26L152.10 365.06L152.53 365.87L152.95 366.67L153.38 367.47L153.81 368.26L154.24 369.05L154.67 369.84L155.10 370.63L155.52 371.41L155.95 372.19L156.38 372.96L156.47 373.13M159.22 378.01L159.38 378.29L159.81 379.03L160.23 379.77L160.66 380.51L161.09 381.25L161.52 381.98L161.95 382.70L162.38 383.43L162.80 384.14L163.23 384.86L163.66 385.57L164.09 386.27L164.52 386.97L164.95 387.67L165.35 388.33M168.35 393.06L168.37 393.09L168.80 393.74L169.23 394.39L169.66 395.04L170.09 395.68L170.51 396.32L170.94 396.95L171.37 397.58L171.80 398.20L172.23 398.82L172.66 399.43L173.09 400.04L173.51 400.65L173.94 401.26L174.37 401.86L174.80 402.45L174.80 402.46M178.11 406.97L178.23 407.12L178.65 407.69L179.08 408.26L179.51 408.82L179.94 409.38L180.37 409.94L180.80 410.49L181.22 411.05L181.65 411.59L182.08 412.14L182.51 412.68L182.94 413.22L183.37 413.76L183.79 414.29L184.22 414.82L184.65 415.35L184.80 415.53M188.38 419.84L188.50 419.99L188.93 420.49L189.36 420.99L189.79 421.48L190.22 421.98L190.65 422.47L191.07 422.96L191.50 423.44L191.93 423.93L192.36 424.41L192.79 424.89L193.22 425.36L193.64 425.84L194.07 426.31L194.50 426.78L194.93 427.24L195.24 427.59M199.09 431.66L199.21 431.79L199.64 432.23L200.07 432.67L200.50 433.10L200.93 433.54L201.36 433.97L201.78 434.40L202.21 434.83L202.64 435.25L203.07 435.67L203.50 436.09L203.93 436.51L204.35 436.93L204.78 437.34L205.21 437.75L205.64 438.16L206.07 438.57L206.10 438.60M210.20 442.41L210.35 442.55L210.78 442.94L211.21 443.32L211.63 443.71L212.06 444.09L212.49 444.48L212.92 444.86L213.35 445.24L213.78 445.62L214.20 445.99L214.63 446.37L215.06 446.75L215.49 447.12L215.92 447.49L216.35 447.87L216.77 448.24L217.20 448.61L217.32 448.71M221.58 452.34L221.91 452.62L222.34 452.98L222.77 453.34L223.20 453.70L223.63 454.06L224.06 454.42L224.49 454.78L224.91 455.13L225.34 455.49L225.77 455.84L226.20 456.20L226.63 456.55L227.06 456.90L227.48 457.26L227.91 457.61L228.34 457.96L228.74 458.28M233.11 461.79L233.48 462.09L233.91 462.42L234.34 462.76L234.77 463.09L235.19 463.43L235.62 463.76L236.05 464.10L236.48 464.43L236.91 464.76L237.33 465.09L237.76 465.41L238.19 465.74L238.62 466.07L239.05 466.39L239.48 466.71L239.90 467.03L240.29 467.32M244.81 470.63L245.04 470.80L245.47 471.11L245.90 471.41L246.33 471.71L246.76 472.01L247.19 472.31L247.61 472.61L248.04 472.91L248.47 473.21L248.90 473.50L249.14 473.67L249.38 473.83L249.62 473.99L249.87 474.15L250.11 474.32L250.35 474.48L250.59 474.64L250.83 474.80L251.07 474.96L251.32 475.11L251.56 475.27L251.80 475.43L252.00 475.56M256.75 478.52L256.88 478.60L257.12 478.75L257.36 478.89L257.60 479.04L257.84 479.19L258.08 479.34L258.33 479.48L258.57 479.63L258.81 479.78L259.05 479.92L259.29 480.07L259.53 480.22L259.78 480.37L260.02 480.51L260.26 480.66L260.50 480.81L260.74 480.96L260.98 481.10L261.23 481.25L261.47 481.40L261.71 481.55L261.95 481.70L262.19 481.85L262.43 482.00L262.68 482.15L262.92 482.30L263.16 482.45L263.40 482.60L263.59 482.72L263.77 482.83L263.96 482.95L264.05 483.01M268.80 485.98L268.81 485.99L269.00 486.10L269.19 486.22L269.37 486.34L269.56 486.45L269.75 486.57L269.93 486.69L270.12 486.80L270.31 486.92L270.49 487.04L270.68 487.15L270.87 487.27L271.05 487.39L271.24 487.50L271.43 487.62L271.61 487.74L271.80 487.85L271.99 487.97L272.17 488.09L272.36 488.20L272.55 488.32L272.73 488.43L272.92 488.55L273.11 488.67L273.29 488.78L273.48 488.90L273.67 489.02L273.85 489.13L274.04 489.25L274.23 489.37L274.41 489.48L274.60 489.60" fill="none" stroke="#ff0000" stroke-width="0.75"/>
<rect x="117.60" y="290.20" width="5.60" height="5.60" fill="none" stroke="#ff0000" stroke-width="0.78"/>
<rect x="143.30" y="350.70" width="5.60" height="5.60" fill="none" stroke="#ff0000" stroke-width="0.78"/>
<rect x="169.00" y="395.40" width="5.60" height="5.60" fill="none" stroke="#ff0000" stroke-width="0.78"/>
<rect x="194.70" y="427.20" width="5.60" height="5.60" fill="none" stroke="#ff0000" stroke-width="0.78"/>
<rect x="220.40" y="450.90" width="5.60" height="5.60" fill="none" stroke="#ff0000" stroke-width="0.78"/>
<rect x="246.10" y="470.70" width="5.60" height="5.60" fill="none" stroke="#ff0000" stroke-width="0.78"/>
<rect x="271.80" y="486.80" width="5.60" height="5.60" fill="none" stroke="#ff0000" stroke-width="0.78"/>
<path d="M171.80 316.00 C173.13 318.02 174.47 320.12 175.80 321.80 C183.03 330.91 190.27 337.47 197.50 344.40 C206.07 352.61 214.63 360.03 223.20 367.10 C231.77 374.17 240.33 380.77 248.90 387.00 C257.47 393.23 266.03 399.09 274.60 404.60 C283.17 410.11 291.73 415.33 300.30 420.20" fill="none" stroke="#ff0000" stroke-width="0.75"/>
<rect x="169.00" y="313.20" width="5.60" height="5.60" fill="#ff0000"/>
<rect x="194.70" y="341.60" width="5.60" height="5.60" fill="#ff0000"/>
<rect x="220.40" y="364.30" width="5.60" height="5.60" fill="#ff0000"/>
<rect x="246.10" y="384.20" width="5.60" height="5.60" fill="#ff0000"/>
<rect x="271.80" y="401.80" width="5.60" height="5.60" fill="#ff0000"/>
<rect x="297.50" y="417.40" width="5.60" height="5.60" fill="#ff0000"/>
<path d="M146.10 302.00L146.28 302.34L146.45 302.69L146.63 303.03L146.81 303.37L146.98 303.72L147.16 304.06L147.34 304.40L147.51 304.74L147.69 305.08L147.87 305.43L148.04 305.77L148.22 306.10L148.40 306.44L148.57 306.78L148.75 307.12L148.93 307.46L149.10 307.80L149.28 308.13L149.46 308.47L149.63 308.81L149.81 309.14L149.99 309.48L150.16 309.81L150.34 310.15L150.52 310.48L150.69 310.81L150.87 311.15L151.05 311.48L151.22 311.81L151.40 312.14L151.58 312.47L151.75 312.80L151.93 313.12M154.60 318.04L154.76 318.32L154.93 318.64L155.11 318.96L155.29 319.28L155.46 319.60L155.64 319.91L155.82 320.23L155.99 320.54L156.17 320.86L156.35 321.17L156.52 321.49L156.70 321.80L156.95 322.24L157.20 322.69L157.45 323.13L157.71 323.58L157.96 324.02L158.21 324.47L158.46 324.91L158.71 325.35L158.96 325.79L159.22 326.24L159.47 326.68L159.72 327.12L159.97 327.56L160.22 328.00L160.47 328.44L160.64 328.72M163.45 333.57L163.49 333.65L163.75 334.08L164.00 334.50L164.25 334.93L164.50 335.35L164.75 335.78L165.01 336.20L165.26 336.62L165.51 337.04L165.76 337.46L166.01 337.87L166.26 338.29L166.52 338.70L166.77 339.12L167.02 339.53L167.27 339.94L167.52 340.34L167.77 340.75L168.03 341.15L168.28 341.56L168.53 341.96L168.78 342.36L169.03 342.75L169.28 343.15L169.54 343.54L169.63 343.70M172.72 348.37L173.09 348.90L173.51 349.53L173.94 350.15L174.37 350.77L174.80 351.39L175.23 352.01L175.66 352.62L176.08 353.24L176.51 353.84L176.94 354.45L177.37 355.05L177.80 355.65L178.23 356.25L178.65 356.85L179.08 357.44L179.23 357.65M182.55 362.16L182.94 362.67L183.37 363.24L183.79 363.81L184.22 364.37L184.65 364.94L185.08 365.50L185.51 366.06L185.93 366.61L186.36 367.17L186.79 367.72L187.22 368.27L187.65 368.82L188.08 369.36L188.50 369.90L188.93 370.45L189.23 370.82M192.74 375.18L192.79 375.24L193.22 375.76L193.64 376.28L194.07 376.80L194.50 377.32L194.93 377.84L195.36 378.35L195.79 378.86L196.21 379.38L196.64 379.88L197.07 380.39L197.50 380.90L197.93 381.41L198.36 381.91L198.79 382.41L199.21 382.91L199.56 383.32M203.23 387.54L203.50 387.84L203.93 388.33L204.35 388.81L204.78 389.29L205.21 389.77L205.64 390.25L206.07 390.73L206.50 391.20L206.92 391.68L207.35 392.15L207.78 392.62L208.21 393.09L208.64 393.56L209.07 394.02L209.49 394.48L209.92 394.95L210.14 395.18M213.99 399.25L214.20 399.48L214.63 399.92L215.06 400.36L215.49 400.80L215.92 401.24L216.35 401.67L216.77 402.11L217.20 402.54L217.63 402.97L218.06 403.40L218.49 403.83L218.92 404.25L219.34 404.68L219.77 405.10L220.20 405.52L220.63 405.93L220.69 405.99" fill="none" stroke="#0000ff" stroke-width="0.75"/>
<rect x="143.30" y="299.20" width="5.60" height="5.60" fill="none" stroke="#0000ff" stroke-width="0.78"/>
<rect x="169.00" y="344.20" width="5.60" height="5.60" fill="none" stroke="#0000ff" stroke-width="0.78"/>
<rect x="194.70" y="378.10" width="5.60" height="5.60" fill="none" stroke="#0000ff" stroke-width="0.78"/>
<rect x="220.40" y="405.60" width="5.60" height="5.60" fill="none" stroke="#0000ff" stroke-width="0.78"/>
<path d="M197.50 300.00 C206.07 307.97 214.63 315.93 223.20 323.90" fill="none" stroke="#0000ff" stroke-width="0.75"/>
<rect x="194.70" y="297.20" width="5.60" height="5.60" fill="#0000ff"/>
<rect x="220.40" y="321.10" width="5.60" height="5.60" fill="#0000ff"/>
</g>
<g clip-path="url(#cp3)">
<path d="M94.70 567.90 C96.80 569.70 98.90 571.40 101.00 573.00 C103.00 574.52 105.00 576.13 107.00 577.30 C109.30 578.65 111.60 579.75 113.90 580.70 C116.07 581.59 118.23 582.41 120.40 583.00 C128.97 585.33 137.53 586.37 146.10 588.20 C154.67 590.03 163.23 592.23 171.80 594.00 C180.37 595.77 188.93 597.37 197.50 598.90 C206.07 600.43 214.63 601.93 223.20 603.20 C231.77 604.47 240.33 605.45 248.90 606.60 C257.47 607.75 266.03 608.95 274.60 610.10 C283.17 611.25 291.73 612.44 300.30 613.50 C308.87 614.56 317.43 615.40 326.00 616.50 C334.57 617.60 343.13 618.87 351.70 620.20 C360.27 621.53 368.83 622.85 377.40 624.50 C385.97 626.15 394.53 627.96 403.10 630.30 C411.67 632.64 420.23 635.72 428.80 639.20" fill="none" stroke="#000000" stroke-width="0.75"/>
<rect x="91.90" y="565.10" width="5.60" height="5.60" fill="#000000"/>
<rect x="117.60" y="580.20" width="5.60" height="5.60" fill="#000000"/>
<rect x="143.30" y="585.40" width="5.60" height="5.60" fill="#000000"/>
<rect x="169.00" y="591.20" width="5.60" height="5.60" fill="#000000"/>
<rect x="194.70" y="596.10" width="5.60" height="5.60" fill="#000000"/>
<rect x="220.40" y="600.40" width="5.60" height="5.60" fill="#000000"/>
<rect x="246.10" y="603.80" width="5.60" height="5.60" fill="#000000"/>
<rect x="271.80" y="607.30" width="5.60" height="5.60" fill="#000000"/>
<rect x="297.50" y="610.70" width="5.60" height="5.60" fill="#000000"/>
<rect x="323.20" y="613.70" width="5.60" height="5.60" fill="#000000"/>
<rect x="348.90" y="617.40" width="5.60" height="5.60" fill="#000000"/>
<rect x="374.60" y="621.70" width="5.60" height="5.60" fill="#000000"/>
<rect x="400.30" y="627.50" width="5.60" height="5.60" fill="#000000"/>
<rect x="426.00" y="636.40" width="5.60" height="5.60" fill="#000000"/>
<path d="M94.70 541.50 C103.27 544.47 111.83 547.20 120.40 549.60 C128.97 552.00 137.53 554.17 146.10 556.10 C154.67 558.03 163.23 559.73 171.80 561.30 C180.37 562.87 188.93 564.40 197.50 565.60 C206.07 566.80 214.63 567.67 223.20 568.70 C231.77 569.73 240.33 570.73 248.90 571.80 C257.47 572.87 266.03 574.02 274.60 575.10 C283.17 576.18 291.73 577.16 300.30 578.30 C308.87 579.44 317.43 580.78 326.00 582.00 C334.57 583.22 343.13 584.23 351.70 585.60 C360.27 586.97 368.83 588.62 377.40 590.40 C385.97 592.18 394.53 594.20 403.10 596.40" fill="none" stroke="#00ff00" stroke-width="0.75"/>
<rect x="91.90" y="538.70" width="5.60" height="5.60" fill="#00ff00"/>
<rect x="117.60" y="546.80" width="5.60" height="5.60" fill="#00ff00"/>
<rect x="143.30" y="553.30" width="5.60" height="5.60" fill="#00ff00"/>
<rect x="169.00" y="558.50" width="5.60" height="5.60" fill="#00ff00"/>
<rect x="194.70" y="562.80" width="5.60" height="5.60" fill="#00ff00"/>
<rect x="220.40" y="565.90" width="5.60" height="5.60" fill="#00ff00"/>
<rect x="246.10" y="569.00" width="5.60" height="5.60" fill="#00ff00"/>
<rect x="271.80" y="572.30" width="5.60" height="5.60" fill="#00ff00"/>
<rect x="297.50" y="575.50" width="5.60" height="5.60" fill="#00ff00"/>
<rect x="323.20" y="579.20" width="5.60" height="5.60" fill="#00ff00"/>
<rect x="348.90" y="582.80" width="5.60" height="5.60" fill="#00ff00"/>
<rect x="374.60" y="587.60" width="5.60" height="5.60" fill="#00ff00"/>
<rect x="400.30" y="593.60" width="5.60" height="5.60" fill="#00ff00"/>
<path d="M94.70 527.60 C103.27 528.90 111.83 530.23 120.40 531.60 C128.97 532.97 137.53 534.45 146.10 535.80 C154.67 537.15 163.23 538.55 171.80 539.70 C180.37 540.85 188.93 541.66 197.50 542.80 C206.07 543.94 214.63 545.37 223.20 546.60 C231.77 547.83 240.33 548.95 248.90 550.20 C257.47 551.45 266.03 552.77 274.60 554.10 C283.17 555.43 291.73 556.80 300.30 558.20" fill="none" stroke="#ff0000" stroke-width="0.75"/>
<rect x="91.90" y="524.80" width="5.60" height="5.60" fill="#ff0000"/>
<rect x="117.60" y="528.80" width="5.60" height="5.60" fill="#ff0000"/>
<rect x="143.30" y="533.00" width="5.60" height="5.60" fill="#ff0000"/>
<rect x="169.00" y="536.90" width="5.60" height="5.60" fill="#ff0000"/>
<rect x="194.70" y="540.00" width="5.60" height="5.60" fill="#ff0000"/>
<rect x="220.40" y="543.80" width="5.60" height="5.60" fill="#ff0000"/>
<rect x="246.10" y="547.40" width="5.60" height="5.60" fill="#ff0000"/>
<rect x="271.80" y="551.30" width="5.60" height="5.60" fill="#ff0000"/>
<rect x="297.50" y="555.40" width="5.60" height="5.60" fill="#ff0000"/>
<path d="M94.70 519.50 C103.27 520.12 111.83 520.83 120.40 521.60 C128.97 522.37 137.53 523.33 146.10 524.20 C154.67 525.07 163.23 525.89 171.80 526.80 C180.37 527.71 188.93 528.79 197.50 529.70 C206.07 530.61 214.63 531.48 223.20 532.30" fill="none" stroke="#0000ff" stroke-width="0.75"/>
<rect x="91.90" y="516.70" width="5.60" height="5.60" fill="#0000ff"/>
<rect x="117.60" y="518.80" width="5.60" height="5.60" fill="#0000ff"/>
<rect x="143.30" y="521.40" width="5.60" height="5.60" fill="#0000ff"/>
<rect x="169.00" y="524.00" width="5.60" height="5.60" fill="#0000ff"/>
<rect x="194.70" y="526.90" width="5.60" height="5.60" fill="#0000ff"/>
<rect x="220.40" y="529.50" width="5.60" height="5.60" fill="#0000ff"/>
<path d="M94.70 559.45L95.13 559.62L95.56 559.78L95.99 559.95L96.41 560.12L96.84 560.28L97.27 560.45L97.70 560.61L98.13 560.78L98.56 560.94L98.98 561.10L99.41 561.27L99.84 561.43L100.27 561.59L100.70 561.75L101.13 561.91L101.55 562.07L101.98 562.24L102.41 562.39L102.84 562.55L103.27 562.71L103.70 562.87L104.12 563.03L104.55 563.19L104.98 563.34L105.41 563.50L105.61 563.57M110.51 565.33L110.55 565.34L110.98 565.49L111.40 565.64L111.83 565.79L112.26 565.94L112.69 566.08L113.12 566.23L113.55 566.38L113.97 566.52L114.40 566.67L114.83 566.81L115.26 566.96L115.69 567.10L116.12 567.25L116.54 567.39L116.97 567.53L117.40 567.67L117.83 567.81L118.26 567.96L118.69 568.10L119.11 568.23L119.54 568.37L119.97 568.51L120.40 568.65L120.83 568.79L121.26 568.92L121.69 569.06L122.11 569.20L122.54 569.34L122.97 569.47L123.40 569.61L123.83 569.75L124.26 569.88L124.68 570.02L125.11 570.16L125.54 570.29L125.97 570.43L126.40 570.56L126.83 570.70L127.25 570.83L127.68 570.97L128.11 571.10L128.54 571.23L128.97 571.37L129.40 571.50L129.82 571.63L130.25 571.76L130.68 571.90L130.76 571.92M135.75 573.41L135.82 573.43L136.25 573.55L136.68 573.68L137.10 573.80L137.53 573.92L137.96 574.04L138.39 574.16L138.82 574.28L139.25 574.40L139.67 574.51L140.10 574.63L140.53 574.74L140.96 574.86L141.39 574.97L141.82 575.08L142.24 575.20L142.67 575.31L143.10 575.42L143.53 575.52L143.96 575.63L144.39 575.74L144.81 575.84L145.24 575.95L145.67 576.05L146.10 576.15L146.53 576.25L146.96 576.35L147.39 576.45L147.81 576.55L148.24 576.65L148.67 576.75L149.10 576.84L149.53 576.94L149.96 577.04L150.38 577.13L150.81 577.23L151.24 577.32L151.67 577.42L152.10 577.51L152.53 577.61L152.95 577.70L153.38 577.79L153.81 577.88L154.24 577.97L154.67 578.06L155.10 578.15L155.52 578.24L155.95 578.33L156.09 578.36M161.19 579.38L161.52 579.44L161.95 579.52L162.38 579.60L162.80 579.68L163.23 579.76L163.66 579.84L164.09 579.92L164.52 580.00L164.95 580.08L165.37 580.15L165.80 580.23L166.23 580.31L166.66 580.38L167.09 580.46L167.52 580.53L167.94 580.61L168.37 580.68L168.80 580.75L169.23 580.83L169.66 580.90L170.09 580.97L170.51 581.04L170.94 581.11L171.37 581.18L171.80 581.25L172.23 581.32L172.66 581.39L173.09 581.45L173.51 581.52L173.94 581.59L174.37 581.65L174.80 581.72L175.23 581.78L175.66 581.85L176.08 581.91L176.51 581.97L176.94 582.04L177.37 582.10L177.80 582.16L178.23 582.22L178.65 582.28L179.08 582.34L179.51 582.40L179.94 582.46L180.37 582.52L180.80 582.58L181.22 582.64L181.62 582.70M186.78 583.38L186.79 583.38L187.22 583.44L187.65 583.49L188.08 583.55L188.50 583.60L188.93 583.66L189.36 583.71L189.79 583.77L190.22 583.82L190.65 583.87L191.07 583.93L191.50 583.98L191.93 584.04L192.36 584.09L192.79 584.15L193.22 584.20L193.64 584.26L194.07 584.31L194.50 584.36L194.93 584.42L195.36 584.47L195.79 584.53L196.21 584.58L196.64 584.64L197.07 584.69L197.50 584.75L197.93 584.81L198.36 584.86L198.79 584.92L199.21 584.97L199.64 585.03L200.07 585.09L200.50 585.14L200.93 585.20L201.36 585.26L201.78 585.31L202.21 585.37L202.64 585.43L203.07 585.48L203.50 585.54L203.93 585.60L204.35 585.66L204.78 585.71L205.21 585.77L205.64 585.83L206.07 585.88L206.50 585.94L206.92 586.00L207.24 586.04M212.40 586.71L212.49 586.72L212.92 586.78L213.35 586.83L213.78 586.88L214.20 586.94L214.63 586.99L215.06 587.04L215.49 587.09L215.92 587.15L216.35 587.20L216.77 587.25L217.20 587.30L217.63 587.35L218.06 587.40L218.49 587.45L218.92 587.49L219.34 587.54L219.77 587.59L220.20 587.64L220.63 587.68L221.06 587.73L221.49 587.77L221.91 587.82L222.34 587.86L222.77 587.91L223.20 587.95L223.63 587.99L224.06 588.03L224.49 588.08L224.91 588.12L225.34 588.16L225.77 588.20L226.20 588.24L226.63 588.28L227.06 588.32L227.48 588.36L227.91 588.40L228.34 588.44L228.77 588.48L229.20 588.52L229.63 588.56L230.05 588.59L230.48 588.63L230.91 588.67L231.34 588.71L231.77 588.74L232.20 588.78L232.62 588.82L232.87 588.84M238.05 589.26L238.19 589.27L238.62 589.31L239.05 589.34L239.48 589.37L239.90 589.40L240.33 589.44L240.76 589.47L241.19 589.50L241.62 589.53L242.05 589.57L242.47 589.60L242.90 589.63L243.33 589.66L243.76 589.69L244.19 589.72L244.62 589.75L245.04 589.78L245.47 589.81L245.90 589.84L246.33 589.87L246.76 589.90L247.19 589.93L247.61 589.96L248.04 589.99L248.47 590.02L248.90 590.05L249.33 590.08L249.76 590.11L250.19 590.14L250.61 590.16L251.04 590.19L251.47 590.22L251.90 590.25L252.33 590.28L252.76 590.31L253.18 590.33L253.61 590.36L254.04 590.39L254.47 590.42L254.90 590.44L255.33 590.47L255.75 590.50L256.18 590.52L256.61 590.55L257.04 590.58L257.47 590.60L257.90 590.63L258.32 590.66L258.54 590.67M263.73 590.97L263.89 590.98L264.32 591.01L264.75 591.03L265.18 591.06L265.60 591.08L266.03 591.10L266.46 591.13L266.89 591.15L267.32 591.17L267.75 591.20L268.17 591.22L268.60 591.24L269.03 591.27L269.46 591.29L269.89 591.31L270.32 591.33L270.74 591.36L271.17 591.38L271.60 591.40L272.03 591.42L272.46 591.44L272.89 591.46L273.31 591.49L273.74 591.51L274.17 591.53L274.60 591.55L275.03 591.57L275.46 591.59L275.89 591.61L276.31 591.63L276.74 591.65L277.17 591.68L277.60 591.70L278.03 591.72L278.46 591.74L278.88 591.76L279.31 591.78L279.74 591.80L280.17 591.82L280.60 591.84L281.03 591.86L281.45 591.88L281.88 591.90L282.31 591.92L282.74 591.94L283.17 591.96L283.60 591.98L284.02 592.00L284.23 592.01M289.42 592.23L289.59 592.24L290.02 592.26L290.45 592.28L290.88 592.29L291.30 592.31L291.73 592.33L292.16 592.35L292.59 592.36L293.02 592.38L293.45 592.40L293.87 592.41L294.30 592.43L294.73 592.45L295.16 592.46L295.59 592.48L296.02 592.50L296.44 592.51L296.87 592.53L297.30 592.54L297.73 592.56L298.16 592.58L298.59 592.59L299.01 592.61L299.44 592.62L299.87 592.64L300.30 592.65L300.73 592.66L301.16 592.68L301.59 592.69L302.01 592.71L302.44 592.72L302.87 592.73L303.30 592.75L303.73 592.76L304.16 592.77L304.58 592.79L305.01 592.80L305.44 592.81L305.87 592.82L306.30 592.83L306.73 592.85L307.15 592.86L307.58 592.87L308.01 592.88L308.44 592.89L308.87 592.90L309.30 592.92L309.72 592.93L309.92 592.93M315.12 593.06L315.29 593.07L315.72 593.08L316.15 593.09L316.58 593.10L317.00 593.11L317.43 593.12L317.86 593.13L318.29 593.14L318.72 593.15L319.15 593.17L319.57 593.18L320.00 593.19L320.43 593.20L320.86 593.21L321.29 593.22L321.72 593.23L322.14 593.24L322.57 593.25L323.00 593.27L323.43 593.28L323.86 593.29L324.29 593.30L324.71 593.31L325.14 593.33L325.57 593.34L326.00 593.35L326.43 593.36L326.86 593.38L327.29 593.39L327.71 593.40L328.14 593.42L328.57 593.43L329.00 593.45L329.43 593.46L329.86 593.48L330.28 593.50L330.71 593.51L331.14 593.53L331.57 593.55L332.00 593.56L332.43 593.58L332.85 593.60L333.28 593.62L333.71 593.63L334.14 593.65L334.57 593.67L335.00 593.69L335.42 593.70L335.62 593.71M340.81 593.92L340.99 593.93L341.42 593.94L341.85 593.96L342.28 593.97L342.70 593.98L343.13 594.00L343.56 594.01L343.99 594.02L344.42 594.04L344.85 594.05L345.27 594.06L345.70 594.07L346.13 594.08L346.56 594.09L346.99 594.10L347.42 594.11L347.84 594.12L348.27 594.12L348.70 594.13L349.13 594.13L349.56 594.14L349.99 594.14L350.41 594.15L350.84 594.15L351.27 594.15L351.70 594.15L352.13 594.15L352.56 594.15L352.99 594.15L353.41 594.15L353.84 594.15L354.27 594.15L354.70 594.15L355.13 594.15L355.56 594.15L355.98 594.15L356.41 594.15L356.84 594.15L357.27 594.15L357.70 594.15L358.13 594.15L358.55 594.15L358.98 594.15L359.41 594.15L359.84 594.15L360.27 594.15L360.70 594.15L361.12 594.15L361.31 594.15M366.51 594.15L366.69 594.15L367.12 594.15L367.55 594.15L367.98 594.15L368.40 594.15L368.83 594.15L369.26 594.15L369.69 594.15L370.12 594.15L370.55 594.15L370.97 594.15L371.40 594.15L371.83 594.15L372.26 594.15L372.69 594.15L373.12 594.15L373.54 594.15L373.97 594.15L374.40 594.15L374.83 594.15L375.26 594.15L375.69 594.15L376.11 594.15L376.54 594.15L376.97 594.15L377.40 594.15L377.83 594.15L378.26 594.15L378.69 594.14L379.11 594.14L379.54 594.13L379.97 594.13L380.40 594.12L380.83 594.11L381.26 594.10L381.68 594.09L382.11 594.08L382.54 594.07L382.97 594.05L383.40 594.04L383.83 594.02L384.25 594.00L384.68 593.99L385.11 593.97L385.54 593.95L385.97 593.93L386.40 593.91L386.82 593.88L387.01 593.87M392.20 593.55L392.39 593.53L392.82 593.50L393.25 593.47L393.68 593.44L394.10 593.41L394.53 593.37L394.96 593.34L395.39 593.30L395.82 593.27L396.25 593.24L396.67 593.20L397.10 593.17L397.53 593.13L397.96 593.09L398.39 593.06L398.82 593.02L399.24 592.98L399.67 592.95L400.10 592.91L400.53 592.87L400.96 592.84L401.39 592.80L401.81 592.76L402.24 592.72L402.67 592.69L403.10 592.65L403.53 592.61L403.96 592.57L404.39 592.53L404.81 592.49L405.24 592.44L405.67 592.39L406.10 592.35L406.53 592.30L406.96 592.24L407.38 592.19L407.81 592.14L408.24 592.08L408.67 592.02L409.10 591.96L409.53 591.90L409.95 591.84L410.38 591.78L410.81 591.71L411.24 591.65L411.67 591.58L412.10 591.51L412.52 591.44L412.72 591.41M417.83 590.48L418.09 590.42L418.52 590.34L418.95 590.25L419.38 590.16L419.80 590.08L420.23 589.99L420.66 589.90L421.09 589.81L421.52 589.71L421.95 589.62L422.37 589.53L422.80 589.43L423.23 589.34L423.66 589.24L424.09 589.15L424.52 589.05L424.94 588.95L425.37 588.85L425.80 588.76L426.23 588.66L426.66 588.56L427.09 588.46L427.51 588.36L427.94 588.25L428.37 588.15L428.80 588.05" fill="none" stroke="#000000" stroke-width="0.75"/>
<path d="M94.70 555.60 L98.25 561.40 L91.15 561.40 Z" fill="#000000"/>
<path d="M120.40 564.80 L123.95 570.60 L116.85 570.60 Z" fill="#000000"/>
<path d="M146.10 572.30 L149.65 578.10 L142.55 578.10 Z" fill="#000000"/>
<path d="M171.80 577.40 L175.35 583.20 L168.25 583.20 Z" fill="#000000"/>
<path d="M197.50 580.90 L201.05 586.70 L193.95 586.70 Z" fill="#000000"/>
<path d="M223.20 584.10 L226.75 589.90 L219.65 589.90 Z" fill="#000000"/>
<path d="M248.90 586.20 L252.45 592.00 L245.35 592.00 Z" fill="#000000"/>
<path d="M274.60 587.70 L278.15 593.50 L271.05 593.50 Z" fill="#000000"/>
<path d="M300.30 588.80 L303.85 594.60 L296.75 594.60 Z" fill="#000000"/>
<path d="M326.00 589.50 L329.55 595.30 L322.45 595.30 Z" fill="#000000"/>
<path d="M351.70 590.30 L355.25 596.10 L348.15 596.10 Z" fill="#000000"/>
<path d="M377.40 590.30 L380.95 596.10 L373.85 596.10 Z" fill="#000000"/>
<path d="M403.10 588.80 L406.65 594.60 L399.55 594.60 Z" fill="#000000"/>
<path d="M428.80 584.20 L432.35 590.00 L425.25 590.00 Z" fill="#000000"/>
<path d="M94.70 537.25L95.13 537.34L95.56 537.43L95.99 537.52L96.41 537.61L96.84 537.70L97.27 537.79L97.70 537.88L98.13 537.97L98.56 538.06L98.98 538.14L99.41 538.23L99.84 538.32L100.27 538.41L100.70 538.50L101.13 538.59L101.55 538.68L101.98 538.77L102.41 538.85L102.84 538.94L103.27 539.03L103.70 539.12L104.12 539.20L104.55 539.29L104.98 539.38L105.41 539.47L105.68 539.52M110.78 540.55L110.98 540.59L111.40 540.68L111.83 540.76L112.26 540.85L112.69 540.93L113.12 541.02L113.55 541.11L113.97 541.19L114.40 541.28L114.83 541.36L115.26 541.44L115.69 541.53L116.12 541.61L116.54 541.70L116.97 541.78L117.40 541.87L117.83 541.95L118.26 542.03L118.69 542.12L119.11 542.20L119.54 542.28L119.97 542.37L120.40 542.45L120.83 542.53L121.26 542.62L121.69 542.70L122.11 542.78L122.54 542.87L122.97 542.95L123.40 543.03L123.83 543.12L124.26 543.20L124.68 543.28L125.11 543.37L125.54 543.45L125.97 543.53L126.40 543.62L126.83 543.70L127.25 543.79L127.68 543.87L128.11 543.95L128.54 544.04L128.97 544.12L129.40 544.20L129.82 544.29L130.25 544.37L130.68 544.45L131.11 544.53L131.20 544.55M136.30 545.52L136.68 545.59L137.10 545.67L137.53 545.75L137.96 545.83L138.39 545.91L138.82 545.98L139.25 546.06L139.67 546.14L140.10 546.22L140.53 546.29L140.96 546.37L141.39 546.44L141.82 546.52L142.24 546.60L142.67 546.67L143.10 546.74L143.53 546.82L143.96 546.89L144.39 546.96L144.81 547.04L145.24 547.11L145.67 547.18L146.10 547.25L146.53 547.32L146.96 547.39L147.39 547.46L147.81 547.53L148.24 547.60L148.67 547.67L149.10 547.74L149.53 547.81L149.96 547.87L150.38 547.94L150.81 548.01L151.24 548.08L151.67 548.14L152.10 548.21L152.53 548.28L152.95 548.34L153.38 548.41L153.81 548.48L154.24 548.54L154.67 548.61L155.10 548.67L155.52 548.74L155.95 548.80L156.38 548.87L156.74 548.92M161.88 549.68L161.95 549.69L162.38 549.75L162.80 549.81L163.23 549.87L163.66 549.93L164.09 549.99L164.52 550.05L164.95 550.11L165.37 550.17L165.80 550.23L166.23 550.29L166.66 550.35L167.09 550.41L167.52 550.47L167.94 550.53L168.37 550.59L168.80 550.65L169.23 550.70L169.66 550.76L170.09 550.82L170.51 550.88L170.94 550.94L171.37 550.99L171.80 551.05L172.23 551.11L172.66 551.16L173.09 551.22L173.51 551.28L173.94 551.33L174.37 551.39L174.80 551.44L175.23 551.50L175.66 551.55L176.08 551.61L176.51 551.66L176.94 551.71L177.37 551.77L177.80 551.82L178.23 551.87L178.65 551.93L179.08 551.98L179.51 552.03L179.94 552.09L180.37 552.14L180.80 552.19L181.22 552.24L181.65 552.29L182.08 552.35L182.34 552.38M187.50 552.99L187.65 553.01L188.08 553.06L188.50 553.11L188.93 553.16L189.36 553.21L189.79 553.25L190.22 553.30L190.65 553.35L191.07 553.40L191.50 553.45L191.93 553.50L192.36 553.55L192.79 553.60L193.22 553.65L193.64 553.70L194.07 553.75L194.50 553.80L194.93 553.85L195.36 553.90L195.79 553.95L196.21 554.00L196.64 554.05L197.07 554.10L197.50 554.15L197.93 554.20L198.36 554.25L198.79 554.30L199.21 554.35L199.64 554.40L200.07 554.45L200.50 554.49L200.93 554.54L201.36 554.59L201.78 554.64L202.21 554.69L202.64 554.74L203.07 554.78L203.50 554.83L203.93 554.88L204.35 554.93L204.78 554.97L205.21 555.02L205.64 555.07L206.07 555.12L206.50 555.16L206.92 555.21L207.35 555.26L207.78 555.30L207.98 555.32M213.15 555.89L213.35 555.92L213.78 555.96L214.20 556.01L214.63 556.06L215.06 556.11L215.49 556.15L215.92 556.20L216.35 556.25L216.77 556.30L217.20 556.35L217.63 556.40L218.06 556.45L218.49 556.49L218.92 556.54L219.34 556.59L219.77 556.64L220.20 556.69L220.63 556.74L221.06 556.79L221.49 556.84L221.91 556.90L222.34 556.95L222.77 557.00L223.20 557.05L223.63 557.10L224.06 557.16L224.49 557.21L224.91 557.26L225.34 557.32L225.77 557.37L226.20 557.43L226.63 557.48L227.06 557.54L227.48 557.59L227.91 557.65L228.34 557.71L228.77 557.77L229.20 557.82L229.63 557.88L230.05 557.94L230.48 558.00L230.91 558.06L231.34 558.12L231.77 558.18L232.20 558.24L232.62 558.29L233.05 558.35L233.48 558.41L233.62 558.43M238.77 559.15L239.05 559.19L239.48 559.25L239.90 559.31L240.33 559.36L240.76 559.42L241.19 559.48L241.62 559.54L242.05 559.59L242.47 559.65L242.90 559.71L243.33 559.76L243.76 559.82L244.19 559.88L244.62 559.93L245.04 559.98L245.47 560.04L245.90 560.09L246.33 560.14L246.76 560.20L247.19 560.25L247.61 560.30L248.04 560.35L248.47 560.40L248.90 560.45L249.33 560.50L249.76 560.55L250.19 560.60L250.61 560.64L251.04 560.69L251.47 560.74L251.90 560.78L252.33 560.83L252.76 560.88L253.18 560.92L253.61 560.97L254.04 561.01L254.47 561.06L254.90 561.10L255.33 561.15L255.75 561.19L256.18 561.24L256.61 561.28L257.04 561.32L257.47 561.37L257.90 561.41L258.32 561.45L258.75 561.50L259.18 561.54L259.24 561.54M264.41 562.05L264.75 562.08L265.18 562.12L265.60 562.17L266.03 562.21L266.46 562.25L266.89 562.29L267.32 562.33L267.75 562.37L268.17 562.41L268.60 562.46L269.03 562.50L269.46 562.54L269.89 562.58L270.32 562.62L270.74 562.67L271.17 562.71L271.60 562.75L272.03 562.79L272.46 562.83L272.89 562.88L273.31 562.92L273.74 562.96L274.17 563.01L274.60 563.05L275.03 563.09L275.46 563.14L275.89 563.18L276.31 563.23L276.74 563.27L277.17 563.32L277.60 563.36L278.03 563.41L278.46 563.45L278.88 563.50L279.31 563.54L279.74 563.59L280.17 563.63L280.60 563.68L281.03 563.73L281.45 563.77L281.88 563.82L282.31 563.86L282.74 563.91L283.17 563.96L283.60 564.00L284.02 564.05L284.45 564.10L284.88 564.14L284.89 564.14M290.06 564.69L290.45 564.73L290.88 564.78L291.30 564.82L291.73 564.86L292.16 564.91L292.59 564.95L293.02 564.99L293.45 565.03L293.87 565.08L294.30 565.12L294.73 565.16L295.16 565.20L295.59 565.24L296.02 565.28L296.44 565.32L296.87 565.36L297.30 565.40L297.73 565.43L298.16 565.47L298.59 565.51L299.01 565.54L299.44 565.58L299.87 565.62L300.30 565.65L300.73 565.68L301.16 565.72L301.59 565.75L302.01 565.78L302.44 565.82L302.87 565.85L303.30 565.88L303.73 565.91L304.16 565.94L304.58 565.97L305.01 566.00L305.44 566.03L305.87 566.06L306.30 566.09L306.73 566.11L307.15 566.14L307.58 566.17L308.01 566.20L308.44 566.22L308.87 566.25L309.30 566.28L309.72 566.30L310.15 566.33L310.54 566.35M315.73 566.67L316.15 566.69L316.58 566.72L317.00 566.74L317.43 566.77L317.86 566.80L318.29 566.82L318.72 566.85L319.15 566.88L319.57 566.90L320.00 566.93L320.43 566.96L320.86 566.99L321.29 567.01L321.72 567.04L322.14 567.07L322.57 567.10L323.00 567.13L323.43 567.16L323.86 567.19L324.29 567.22L324.71 567.25L325.14 567.29L325.57 567.32L326.00 567.35L326.43 567.38L326.86 567.42L327.29 567.45L327.71 567.49L328.14 567.53L328.57 567.56L329.00 567.60L329.43 567.64L329.86 567.68L330.28 567.72L330.71 567.76L331.14 567.81L331.57 567.85L332.00 567.89L332.43 567.93L332.85 567.98L333.28 568.02L333.71 568.06L334.14 568.11L334.57 568.15L335.00 568.20L335.42 568.24L335.85 568.29L336.23 568.33M341.40 568.88L341.42 568.88L341.85 568.92L342.28 568.97L342.70 569.01L343.13 569.05L343.56 569.09L343.99 569.14L344.42 569.18L344.85 569.22L345.27 569.26L345.70 569.30L346.13 569.33L346.56 569.37L346.99 569.41L347.42 569.44L347.84 569.48L348.27 569.51L348.70 569.55L349.13 569.58L349.56 569.61L349.99 569.64L350.41 569.67L350.84 569.70L351.27 569.72L351.70 569.75L352.13 569.78L352.56 569.80L352.99 569.83L353.41 569.85L353.84 569.88L354.27 569.90L354.70 569.93L355.13 569.95L355.56 569.98L355.98 570.01L356.41 570.03L356.84 570.06L357.27 570.08L357.70 570.11L358.13 570.13L358.55 570.16L358.98 570.18L359.41 570.21L359.84 570.23L360.27 570.26L360.70 570.28L361.12 570.31L361.55 570.33L361.88 570.35M367.08 570.60L367.12 570.61L367.55 570.62L367.98 570.64L368.40 570.66L368.83 570.68L369.26 570.69L369.69 570.71L370.12 570.72L370.55 570.74L370.97 570.75L371.40 570.76L371.83 570.77L372.26 570.78L372.69 570.79L373.12 570.80L373.54 570.81L373.97 570.82L374.40 570.83L374.83 570.83L375.26 570.84L375.69 570.84L376.11 570.85L376.54 570.85L376.97 570.85L377.40 570.85L377.83 570.85L378.26 570.85L378.69 570.85L379.11 570.85L379.54 570.85L379.97 570.85L380.40 570.85L380.83 570.85L381.26 570.84L381.68 570.84L382.11 570.84L382.54 570.84L382.97 570.84L383.40 570.83L383.83 570.83L384.25 570.83L384.68 570.83L385.11 570.82L385.54 570.82L385.97 570.82L386.40 570.81L386.82 570.81L387.25 570.80L387.57 570.80M392.77 570.71L392.82 570.71L393.25 570.70L393.68 570.69L394.10 570.68L394.53 570.67L394.96 570.66L395.39 570.65L395.82 570.64L396.25 570.62L396.67 570.61L397.10 570.60L397.53 570.58L397.96 570.57L398.39 570.55L398.82 570.54L399.24 570.52L399.67 570.50L400.10 570.49L400.53 570.47L400.96 570.45L401.39 570.43L401.81 570.41L402.24 570.39L402.67 570.37L403.10 570.35" fill="none" stroke="#00ff00" stroke-width="0.75"/>
<path d="M94.70 533.40 L98.25 539.20 L91.15 539.20 Z" fill="#00ff00"/>
<path d="M120.40 538.60 L123.95 544.40 L116.85 544.40 Z" fill="#00ff00"/>
<path d="M146.10 543.40 L149.65 549.20 L142.55 549.20 Z" fill="#00ff00"/>
<path d="M171.80 547.20 L175.35 553.00 L168.25 553.00 Z" fill="#00ff00"/>
<path d="M197.50 550.30 L201.05 556.10 L193.95 556.10 Z" fill="#00ff00"/>
<path d="M223.20 553.20 L226.75 559.00 L219.65 559.00 Z" fill="#00ff00"/>
<path d="M248.90 556.60 L252.45 562.40 L245.35 562.40 Z" fill="#00ff00"/>
<path d="M274.60 559.20 L278.15 565.00 L271.05 565.00 Z" fill="#00ff00"/>
<path d="M300.30 561.80 L303.85 567.60 L296.75 567.60 Z" fill="#00ff00"/>
<path d="M326.00 563.50 L329.55 569.30 L322.45 569.30 Z" fill="#00ff00"/>
<path d="M351.70 565.90 L355.25 571.70 L348.15 571.70 Z" fill="#00ff00"/>
<path d="M377.40 567.00 L380.95 572.80 L373.85 572.80 Z" fill="#00ff00"/>
<path d="M403.10 566.50 L406.65 572.30 L399.55 572.30 Z" fill="#00ff00"/>
<path d="M94.70 525.15L95.13 525.21L95.56 525.27L95.99 525.33L96.41 525.39L96.84 525.44L97.27 525.50L97.70 525.56L98.13 525.62L98.56 525.68L98.98 525.74L99.41 525.79L99.84 525.85L100.27 525.91L100.70 525.97L101.13 526.03L101.55 526.09L101.98 526.14L102.41 526.20L102.84 526.26L103.27 526.32L103.70 526.37L104.12 526.43L104.55 526.49L104.98 526.55L105.41 526.60L105.69 526.64M110.85 527.32L110.98 527.34L111.40 527.39L111.83 527.45L112.26 527.51L112.69 527.56L113.12 527.62L113.55 527.67L113.97 527.73L114.40 527.78L114.83 527.84L115.26 527.89L115.69 527.95L116.12 528.01L116.54 528.06L116.97 528.11L117.40 528.17L117.83 528.22L118.26 528.28L118.69 528.33L119.11 528.39L119.54 528.44L119.97 528.50L120.40 528.55L120.83 528.60L121.26 528.66L121.69 528.71L122.11 528.77L122.54 528.82L122.97 528.88L123.40 528.93L123.83 528.99L124.26 529.04L124.68 529.10L125.11 529.15L125.54 529.21L125.97 529.26L126.40 529.32L126.83 529.37L127.25 529.43L127.68 529.48L128.11 529.54L128.54 529.59L128.97 529.65L129.40 529.70L129.82 529.76L130.25 529.81L130.68 529.87L131.11 529.92L131.31 529.95M136.47 530.59L136.68 530.61L137.10 530.67L137.53 530.72L137.96 530.77L138.39 530.82L138.82 530.87L139.25 530.92L139.67 530.97L140.10 531.02L140.53 531.06L140.96 531.11L141.39 531.16L141.82 531.21L142.24 531.25L142.67 531.30L143.10 531.35L143.53 531.39L143.96 531.44L144.39 531.48L144.81 531.52L145.24 531.57L145.67 531.61L146.10 531.65L146.53 531.69L146.96 531.73L147.39 531.77L147.81 531.81L148.24 531.85L148.67 531.89L149.10 531.93L149.53 531.97L149.96 532.00L150.38 532.04L150.81 532.08L151.24 532.11L151.67 532.15L152.10 532.18L152.53 532.22L152.95 532.25L153.38 532.29L153.81 532.32L154.24 532.36L154.67 532.39L155.10 532.43L155.52 532.46L155.95 532.49L156.38 532.53L156.81 532.56L156.95 532.57M162.13 532.96L162.38 532.98L162.80 533.01L163.23 533.05L163.66 533.08L164.09 533.11L164.52 533.15L164.95 533.18L165.37 533.21L165.80 533.25L166.23 533.28L166.66 533.32L167.09 533.35L167.52 533.38L167.94 533.42L168.37 533.45L168.80 533.49L169.23 533.53L169.66 533.56L170.09 533.60L170.51 533.64L170.94 533.67L171.37 533.71L171.80 533.75L172.23 533.79L172.66 533.83L173.09 533.87L173.51 533.91L173.94 533.95L174.37 533.99L174.80 534.03L175.23 534.07L175.66 534.11L176.08 534.15L176.51 534.19L176.94 534.23L177.37 534.27L177.80 534.31L178.23 534.35L178.65 534.39L179.08 534.44L179.51 534.48L179.94 534.52L180.37 534.56L180.80 534.61L181.22 534.65L181.65 534.69L182.08 534.74L182.51 534.78L182.62 534.79M187.79 535.32L188.08 535.35L188.50 535.40L188.93 535.44L189.36 535.49L189.79 535.53L190.22 535.58L190.65 535.62L191.07 535.67L191.50 535.71L191.93 535.76L192.36 535.80L192.79 535.85L193.22 535.89L193.64 535.94L194.07 535.99L194.50 536.03L194.93 536.08L195.36 536.12L195.79 536.17L196.21 536.21L196.64 536.26L197.07 536.30L197.50 536.35L197.93 536.40L198.36 536.44L198.79 536.49L199.21 536.53L199.64 536.58L200.07 536.63L200.50 536.67L200.93 536.72L201.36 536.77L201.78 536.82L202.21 536.86L202.64 536.91L203.07 536.96L203.50 537.01L203.93 537.06L204.35 537.10L204.78 537.15L205.21 537.20L205.64 537.25L206.07 537.30L206.50 537.35L206.92 537.40L207.35 537.45L207.78 537.50L208.21 537.55L208.27 537.55M213.44 538.15L213.78 538.19L214.20 538.24L214.63 538.29L215.06 538.34L215.49 538.39L215.92 538.43L216.35 538.48L216.77 538.53L217.20 538.58L217.63 538.63L218.06 538.68L218.49 538.73L218.92 538.78L219.34 538.82L219.77 538.87L220.20 538.92L220.63 538.97L221.06 539.01L221.49 539.06L221.91 539.11L222.34 539.16L222.77 539.20L223.20 539.25L223.63 539.30L224.06 539.34L224.49 539.39L224.91 539.44L225.34 539.48L225.77 539.53L226.20 539.58L226.63 539.62L227.06 539.67L227.48 539.72L227.91 539.76L228.34 539.81L228.77 539.85L229.20 539.90L229.63 539.95L230.05 539.99L230.48 540.04L230.91 540.09L231.34 540.13L231.77 540.18L232.20 540.23L232.62 540.27L233.05 540.32L233.48 540.36L233.91 540.41L233.91 540.41M239.08 540.96L239.48 541.00L239.90 541.04L240.33 541.09L240.76 541.13L241.19 541.18L241.62 541.22L242.05 541.26L242.47 541.31L242.90 541.35L243.33 541.40L243.76 541.44L244.19 541.48L244.62 541.53L245.04 541.57L245.47 541.61L245.90 541.66L246.33 541.70L246.76 541.74L247.19 541.78L247.61 541.82L248.04 541.87L248.47 541.91L248.90 541.95L249.33 541.99L249.76 542.03L250.19 542.07L250.61 542.11L251.04 542.15L251.47 542.19L251.90 542.23L252.33 542.27L252.76 542.31L253.18 542.35L253.61 542.39L254.04 542.42L254.47 542.46L254.90 542.50L255.33 542.54L255.75 542.57L256.18 542.61L256.61 542.65L257.04 542.69L257.47 542.72L257.90 542.76L258.32 542.79L258.75 542.83L259.18 542.87L259.56 542.90M264.74 543.34L264.75 543.34L265.18 543.38L265.60 543.41L266.03 543.45L266.46 543.49L266.89 543.53L267.32 543.56L267.75 543.60L268.17 543.64L268.60 543.68L269.03 543.72L269.46 543.76L269.89 543.80L270.32 543.84L270.74 543.88L271.17 543.92L271.60 543.96L272.03 544.00L272.46 544.04L272.89 544.08L273.31 544.12L273.74 544.16L274.17 544.21L274.60 544.25L275.03 544.29L275.46 544.34L275.89 544.38L276.31 544.43L276.74 544.47L277.17 544.52L277.60 544.56L278.03 544.61L278.46 544.65L278.88 544.70L279.31 544.74L279.74 544.79L280.17 544.83L280.60 544.88L281.03 544.93L281.45 544.98L281.88 545.02L282.31 545.07L282.74 545.12L283.17 545.17L283.60 545.21L284.02 545.26L284.45 545.31L284.88 545.36L285.23 545.40M290.39 546.01L290.45 546.01L290.88 546.06L291.30 546.12L291.73 546.17L292.16 546.22L292.59 546.27L293.02 546.33L293.45 546.38L293.87 546.43L294.30 546.48L294.73 546.54L295.16 546.59L295.59 546.65L296.02 546.70L296.44 546.75L296.87 546.81L297.30 546.86L297.73 546.92L298.16 546.97L298.59 547.03L299.01 547.08L299.44 547.14L299.87 547.19L300.30 547.25" fill="none" stroke="#ff0000" stroke-width="0.75"/>
<path d="M94.70 521.30 L98.25 527.10 L91.15 527.10 Z" fill="#ff0000"/>
<path d="M120.40 524.70 L123.95 530.50 L116.85 530.50 Z" fill="#ff0000"/>
<path d="M146.10 527.80 L149.65 533.60 L142.55 533.60 Z" fill="#ff0000"/>
<path d="M171.80 529.90 L175.35 535.70 L168.25 535.70 Z" fill="#ff0000"/>
<path d="M197.50 532.50 L201.05 538.30 L193.95 538.30 Z" fill="#ff0000"/>
<path d="M223.20 535.40 L226.75 541.20 L219.65 541.20 Z" fill="#ff0000"/>
<path d="M248.90 538.10 L252.45 543.90 L245.35 543.90 Z" fill="#ff0000"/>
<path d="M274.60 540.40 L278.15 546.20 L271.05 546.20 Z" fill="#ff0000"/>
<path d="M300.30 543.40 L303.85 549.20 L296.75 549.20 Z" fill="#ff0000"/>
<path d="M94.70 517.05L95.13 517.08L95.56 517.10L95.99 517.13L96.41 517.15L96.84 517.18L97.27 517.20L97.70 517.23L98.13 517.25L98.56 517.28L98.98 517.31L99.41 517.33L99.84 517.36L100.27 517.38L100.70 517.41L101.13 517.44L101.55 517.46L101.98 517.49L102.41 517.52L102.84 517.55L103.27 517.57L103.70 517.60L104.12 517.63L104.55 517.66L104.98 517.68L105.41 517.71L105.70 517.73M110.89 518.08L110.98 518.08L111.40 518.11L111.83 518.14L112.26 518.17L112.69 518.20L113.12 518.23L113.55 518.26L113.97 518.29L114.40 518.32L114.83 518.35L115.26 518.38L115.69 518.41L116.12 518.44L116.54 518.47L116.97 518.50L117.40 518.53L117.83 518.56L118.26 518.59L118.69 518.62L119.11 518.66L119.54 518.69L119.97 518.72L120.40 518.75L120.83 518.78L121.26 518.81L121.69 518.85L122.11 518.88L122.54 518.91L122.97 518.94L123.40 518.98L123.83 519.01L124.26 519.04L124.68 519.08L125.11 519.11L125.54 519.15L125.97 519.18L126.40 519.21L126.83 519.25L127.25 519.28L127.68 519.32L128.11 519.35L128.54 519.39L128.97 519.42L129.40 519.46L129.82 519.49L130.25 519.53L130.68 519.57L131.11 519.60L131.38 519.62M136.56 520.06L136.68 520.07L137.10 520.11L137.53 520.14L137.96 520.18L138.39 520.22L138.82 520.25L139.25 520.29L139.67 520.32L140.10 520.36L140.53 520.40L140.96 520.43L141.39 520.47L141.82 520.50L142.24 520.54L142.67 520.57L143.10 520.61L143.53 520.64L143.96 520.68L144.39 520.71L144.81 520.75L145.24 520.78L145.67 520.82L146.10 520.85L146.53 520.88L146.96 520.92L147.39 520.95L147.81 520.99L148.24 521.02L148.67 521.05L149.10 521.09L149.53 521.12L149.96 521.16L150.38 521.19L150.81 521.22L151.24 521.26L151.67 521.29L152.10 521.32L152.53 521.36L152.95 521.39L153.38 521.43L153.81 521.46L154.24 521.49L154.67 521.53L155.10 521.56L155.52 521.59L155.95 521.63L156.38 521.66L156.81 521.69L157.05 521.71M162.23 522.12L162.38 522.13L162.80 522.16L163.23 522.19L163.66 522.23L164.09 522.26L164.52 522.29L164.95 522.33L165.37 522.36L165.80 522.39L166.23 522.42L166.66 522.46L167.09 522.49L167.52 522.52L167.94 522.56L168.37 522.59L168.80 522.62L169.23 522.65L169.66 522.69L170.09 522.72L170.51 522.75L170.94 522.78L171.37 522.82L171.80 522.85L172.23 522.88L172.66 522.91L173.09 522.95L173.51 522.98L173.94 523.01L174.37 523.04L174.80 523.08L175.23 523.11L175.66 523.14L176.08 523.17L176.51 523.20L176.94 523.23L177.37 523.27L177.80 523.30L178.23 523.33L178.65 523.36L179.08 523.39L179.51 523.42L179.94 523.45L180.37 523.48L180.80 523.52L181.22 523.55L181.65 523.58L182.08 523.61L182.51 523.64L182.72 523.66M187.90 524.03L188.08 524.05L188.50 524.08L188.93 524.11L189.36 524.14L189.79 524.17L190.22 524.20L190.65 524.23L191.07 524.27L191.50 524.30L191.93 524.33L192.36 524.36L192.79 524.39L193.22 524.43L193.64 524.46L194.07 524.49L194.50 524.52L194.93 524.55L195.36 524.59L195.79 524.62L196.21 524.65L196.64 524.68L197.07 524.72L197.50 524.75L197.93 524.78L198.36 524.82L198.79 524.85L199.21 524.88L199.64 524.92L200.07 524.95L200.50 524.98L200.93 525.02L201.36 525.05L201.78 525.08L202.21 525.12L202.64 525.15L203.07 525.19L203.50 525.22L203.93 525.25L204.35 525.29L204.78 525.32L205.21 525.36L205.64 525.39L206.07 525.43L206.50 525.46L206.92 525.49L207.35 525.53L207.78 525.56L208.21 525.60L208.39 525.61M213.58 526.04L213.78 526.06L214.20 526.09L214.63 526.13L215.06 526.16L215.49 526.20L215.92 526.23L216.35 526.27L216.77 526.31L217.20 526.34L217.63 526.38L218.06 526.41L218.49 526.45L218.92 526.49L219.34 526.52L219.77 526.56L220.20 526.60L220.63 526.63L221.06 526.67L221.49 526.70L221.91 526.74L222.34 526.78L222.77 526.81L223.20 526.85" fill="none" stroke="#0000ff" stroke-width="0.75"/>
<path d="M94.70 513.20 L98.25 519.00 L91.15 519.00 Z" fill="#0000ff"/>
<path d="M120.40 514.90 L123.95 520.70 L116.85 520.70 Z" fill="#0000ff"/>
<path d="M146.10 517.00 L149.65 522.80 L142.55 522.80 Z" fill="#0000ff"/>
<path d="M171.80 519.00 L175.35 524.80 L168.25 524.80 Z" fill="#0000ff"/>
<path d="M197.50 520.90 L201.05 526.70 L193.95 526.70 Z" fill="#0000ff"/>
<path d="M223.20 523.00 L226.75 528.80 L219.65 528.80 Z" fill="#0000ff"/>
</g>
<line x1="87.50" y1="0.00" x2="87.50" y2="643.95" stroke="#000" stroke-width="0.90"/>
<line x1="462.50" y1="0.00" x2="462.50" y2="643.95" stroke="#000" stroke-width="0.80"/>
<line x1="87.50" y1="0.50" x2="462.50" y2="0.50" stroke="#000" stroke-width="0.72"/>
<line x1="87.50" y1="161.45" x2="462.50" y2="161.45" stroke="#000" stroke-width="0.72"/>
<line x1="87.50" y1="322.00" x2="462.50" y2="322.00" stroke="#000" stroke-width="0.72"/>
<line x1="87.50" y1="482.65" x2="462.50" y2="482.65" stroke="#000" stroke-width="0.72"/>
<line x1="87.50" y1="643.45" x2="462.50" y2="643.45" stroke="#000" stroke-width="0.72"/>
<line x1="124.21" y1="0.50" x2="124.21" y2="3.50" stroke="#000" stroke-width="0.62"/>
<line x1="124.21" y1="161.45" x2="124.21" y2="158.45" stroke="#000" stroke-width="0.62"/>
<line x1="160.92" y1="0.50" x2="160.92" y2="3.50" stroke="#000" stroke-width="0.62"/>
<line x1="160.92" y1="161.45" x2="160.92" y2="158.45" stroke="#000" stroke-width="0.62"/>
<line x1="197.63" y1="0.50" x2="197.63" y2="3.50" stroke="#000" stroke-width="0.62"/>
<line x1="197.63" y1="161.45" x2="197.63" y2="158.45" stroke="#000" stroke-width="0.62"/>
<line x1="234.34" y1="0.50" x2="234.34" y2="3.50" stroke="#000" stroke-width="0.62"/>
<line x1="234.34" y1="161.45" x2="234.34" y2="158.45" stroke="#000" stroke-width="0.62"/>
<line x1="271.05" y1="0.50" x2="271.05" y2="6.10" stroke="#000" stroke-width="0.62"/>
<line x1="271.05" y1="161.45" x2="271.05" y2="155.85" stroke="#000" stroke-width="0.62"/>
<line x1="307.76" y1="0.50" x2="307.76" y2="3.50" stroke="#000" stroke-width="0.62"/>
<line x1="307.76" y1="161.45" x2="307.76" y2="158.45" stroke="#000" stroke-width="0.62"/>
<line x1="344.47" y1="0.50" x2="344.47" y2="3.50" stroke="#000" stroke-width="0.62"/>
<line x1="344.47" y1="161.45" x2="344.47" y2="158.45" stroke="#000" stroke-width="0.62"/>
<line x1="381.18" y1="0.50" x2="381.18" y2="3.50" stroke="#000" stroke-width="0.62"/>
<line x1="381.18" y1="161.45" x2="381.18" y2="158.45" stroke="#000" stroke-width="0.62"/>
<line x1="417.89" y1="0.50" x2="417.89" y2="3.50" stroke="#000" stroke-width="0.62"/>
<line x1="417.89" y1="161.45" x2="417.89" y2="158.45" stroke="#000" stroke-width="0.62"/>
<line x1="454.60" y1="0.50" x2="454.60" y2="6.10" stroke="#000" stroke-width="0.62"/>
<line x1="454.60" y1="161.45" x2="454.60" y2="155.85" stroke="#000" stroke-width="0.62"/>
<line x1="124.21" y1="161.45" x2="124.21" y2="164.45" stroke="#000" stroke-width="0.62"/>
<line x1="124.21" y1="322.00" x2="124.21" y2="319.00" stroke="#000" stroke-width="0.62"/>
<line x1="160.92" y1="161.45" x2="160.92" y2="164.45" stroke="#000" stroke-width="0.62"/>
<line x1="160.92" y1="322.00" x2="160.92" y2="319.00" stroke="#000" stroke-width="0.62"/>
<line x1="197.63" y1="161.45" x2="197.63" y2="164.45" stroke="#000" stroke-width="0.62"/>
<line x1="197.63" y1="322.00" x2="197.63" y2="319.00" stroke="#000" stroke-width="0.62"/>
<line x1="234.34" y1="161.45" x2="234.34" y2="164.45" stroke="#000" stroke-width="0.62"/>
<line x1="234.34" y1="322.00" x2="234.34" y2="319.00" stroke="#000" stroke-width="0.62"/>
<line x1="271.05" y1="161.45" x2="271.05" y2="167.05" stroke="#000" stroke-width="0.62"/>
<line x1="271.05" y1="322.00" x2="271.05" y2="316.40" stroke="#000" stroke-width="0.62"/>
<line x1="307.76" y1="161.45" x2="307.76" y2="164.45" stroke="#000" stroke-width="0.62"/>
<line x1="307.76" y1="322.00" x2="307.76" y2="319.00" stroke="#000" stroke-width="0.62"/>
<line x1="344.47" y1="161.45" x2="344.47" y2="164.45" stroke="#000" stroke-width="0.62"/>
<line x1="344.47" y1="322.00" x2="344.47" y2="319.00" stroke="#000" stroke-width="0.62"/>
<line x1="381.18" y1="161.45" x2="381.18" y2="164.45" stroke="#000" stroke-width="0.62"/>
<line x1="381.18" y1="322.00" x2="381.18" y2="319.00" stroke="#000" stroke-width="0.62"/>
<line x1="417.89" y1="161.45" x2="417.89" y2="164.45" stroke="#000" stroke-width="0.62"/>
<line x1="417.89" y1="322.00" x2="417.89" y2="319.00" stroke="#000" stroke-width="0.62"/>
<line x1="454.60" y1="161.45" x2="454.60" y2="167.05" stroke="#000" stroke-width="0.62"/>
<line x1="454.60" y1="322.00" x2="454.60" y2="316.40" stroke="#000" stroke-width="0.62"/>
<line x1="124.21" y1="322.00" x2="124.21" y2="325.00" stroke="#000" stroke-width="0.62"/>
<line x1="124.21" y1="482.65" x2="124.21" y2="479.65" stroke="#000" stroke-width="0.62"/>
<line x1="160.92" y1="322.00" x2="160.92" y2="325.00" stroke="#000" stroke-width="0.62"/>
<line x1="160.92" y1="482.65" x2="160.92" y2="479.65" stroke="#000" stroke-width="0.62"/>
<line x1="197.63" y1="322.00" x2="197.63" y2="325.00" stroke="#000" stroke-width="0.62"/>
<line x1="197.63" y1="482.65" x2="197.63" y2="479.65" stroke="#000" stroke-width="0.62"/>
<line x1="234.34" y1="322.00" x2="234.34" y2="325.00" stroke="#000" stroke-width="0.62"/>
<line x1="234.34" y1="482.65" x2="234.34" y2="479.65" stroke="#000" stroke-width="0.62"/>
<line x1="271.05" y1="322.00" x2="271.05" y2="327.60" stroke="#000" stroke-width="0.62"/>
<line x1="271.05" y1="482.65" x2="271.05" y2="477.05" stroke="#000" stroke-width="0.62"/>
<line x1="307.76" y1="322.00" x2="307.76" y2="325.00" stroke="#000" stroke-width="0.62"/>
<line x1="307.76" y1="482.65" x2="307.76" y2="479.65" stroke="#000" stroke-width="0.62"/>
<line x1="344.47" y1="322.00" x2="344.47" y2="325.00" stroke="#000" stroke-width="0.62"/>
<line x1="344.47" y1="482.65" x2="344.47" y2="479.65" stroke="#000" stroke-width="0.62"/>
<line x1="381.18" y1="322.00" x2="381.18" y2="325.00" stroke="#000" stroke-width="0.62"/>
<line x1="381.18" y1="482.65" x2="381.18" y2="479.65" stroke="#000" stroke-width="0.62"/>
<line x1="417.89" y1="322.00" x2="417.89" y2="325.00" stroke="#000" stroke-width="0.62"/>
<line x1="417.89" y1="482.65" x2="417.89" y2="479.65" stroke="#000" stroke-width="0.62"/>
<line x1="454.60" y1="322.00" x2="454.60" y2="327.60" stroke="#000" stroke-width="0.62"/>
<line x1="454.60" y1="482.65" x2="454.60" y2="477.05" stroke="#000" stroke-width="0.62"/>
<line x1="124.21" y1="482.65" x2="124.21" y2="485.65" stroke="#000" stroke-width="0.62"/>
<line x1="124.21" y1="643.45" x2="124.21" y2="640.45" stroke="#000" stroke-width="0.62"/>
<line x1="160.92" y1="482.65" x2="160.92" y2="485.65" stroke="#000" stroke-width="0.62"/>
<line x1="160.92" y1="643.45" x2="160.92" y2="640.45" stroke="#000" stroke-width="0.62"/>
<line x1="197.63" y1="482.65" x2="197.63" y2="485.65" stroke="#000" stroke-width="0.62"/>
<line x1="197.63" y1="643.45" x2="197.63" y2="640.45" stroke="#000" stroke-width="0.62"/>
<line x1="234.34" y1="482.65" x2="234.34" y2="485.65" stroke="#000" stroke-width="0.62"/>
<line x1="234.34" y1="643.45" x2="234.34" y2="640.45" stroke="#000" stroke-width="0.62"/>
<line x1="271.05" y1="482.65" x2="271.05" y2="488.25" stroke="#000" stroke-width="0.62"/>
<line x1="271.05" y1="643.45" x2="271.05" y2="637.85" stroke="#000" stroke-width="0.62"/>
<line x1="307.76" y1="482.65" x2="307.76" y2="485.65" stroke="#000" stroke-width="0.62"/>
<line x1="307.76" y1="643.45" x2="307.76" y2="640.45" stroke="#000" stroke-width="0.62"/>
<line x1="344.47" y1="482.65" x2="344.47" y2="485.65" stroke="#000" stroke-width="0.62"/>
<line x1="344.47" y1="643.45" x2="344.47" y2="640.45" stroke="#000" stroke-width="0.62"/>
<line x1="381.18" y1="482.65" x2="381.18" y2="485.65" stroke="#000" stroke-width="0.62"/>
<line x1="381.18" y1="643.45" x2="381.18" y2="640.45" stroke="#000" stroke-width="0.62"/>
<line x1="417.89" y1="482.65" x2="417.89" y2="485.65" stroke="#000" stroke-width="0.62"/>
<line x1="417.89" y1="643.45" x2="417.89" y2="640.45" stroke="#000" stroke-width="0.62"/>
<line x1="454.60" y1="482.65" x2="454.60" y2="488.25" stroke="#000" stroke-width="0.62"/>
<line x1="454.60" y1="643.45" x2="454.60" y2="637.85" stroke="#000" stroke-width="0.62"/>
<line x1="87.50" y1="153.05" x2="90.50" y2="153.05" stroke="#000" stroke-width="0.62"/>
<line x1="462.50" y1="153.05" x2="459.50" y2="153.05" stroke="#000" stroke-width="0.62"/>
<line x1="87.50" y1="147.14" x2="90.50" y2="147.14" stroke="#000" stroke-width="0.62"/>
<line x1="462.50" y1="147.14" x2="459.50" y2="147.14" stroke="#000" stroke-width="0.62"/>
<line x1="87.50" y1="142.55" x2="90.50" y2="142.55" stroke="#000" stroke-width="0.62"/>
<line x1="462.50" y1="142.55" x2="459.50" y2="142.55" stroke="#000" stroke-width="0.62"/>
<line x1="87.50" y1="138.80" x2="90.50" y2="138.80" stroke="#000" stroke-width="0.62"/>
<line x1="462.50" y1="138.80" x2="459.50" y2="138.80" stroke="#000" stroke-width="0.62"/>
<line x1="87.50" y1="135.63" x2="90.50" y2="135.63" stroke="#000" stroke-width="0.62"/>
<line x1="462.50" y1="135.63" x2="459.50" y2="135.63" stroke="#000" stroke-width="0.62"/>
<line x1="87.50" y1="132.88" x2="90.50" y2="132.88" stroke="#000" stroke-width="0.62"/>
<line x1="462.50" y1="132.88" x2="459.50" y2="132.88" stroke="#000" stroke-width="0.62"/>
<line x1="87.50" y1="130.46" x2="90.50" y2="130.46" stroke="#000" stroke-width="0.62"/>
<line x1="462.50" y1="130.46" x2="459.50" y2="130.46" stroke="#000" stroke-width="0.62"/>
<line x1="87.50" y1="128.30" x2="93.10" y2="128.30" stroke="#000" stroke-width="0.62"/>
<line x1="462.50" y1="128.30" x2="456.90" y2="128.30" stroke="#000" stroke-width="0.62"/>
<line x1="87.50" y1="114.04" x2="90.50" y2="114.04" stroke="#000" stroke-width="0.62"/>
<line x1="462.50" y1="114.04" x2="459.50" y2="114.04" stroke="#000" stroke-width="0.62"/>
<line x1="87.50" y1="105.70" x2="90.50" y2="105.70" stroke="#000" stroke-width="0.62"/>
<line x1="462.50" y1="105.70" x2="459.50" y2="105.70" stroke="#000" stroke-width="0.62"/>
<line x1="87.50" y1="99.79" x2="90.50" y2="99.79" stroke="#000" stroke-width="0.62"/>
<line x1="462.50" y1="99.79" x2="459.50" y2="99.79" stroke="#000" stroke-width="0.62"/>
<line x1="87.50" y1="95.20" x2="90.50" y2="95.20" stroke="#000" stroke-width="0.62"/>
<line x1="462.50" y1="95.20" x2="459.50" y2="95.20" stroke="#000" stroke-width="0.62"/>
<line x1="87.50" y1="91.45" x2="90.50" y2="91.45" stroke="#000" stroke-width="0.62"/>
<line x1="462.50" y1="91.45" x2="459.50" y2="91.45" stroke="#000" stroke-width="0.62"/>
<line x1="87.50" y1="88.28" x2="90.50" y2="88.28" stroke="#000" stroke-width="0.62"/>
<line x1="462.50" y1="88.28" x2="459.50" y2="88.28" stroke="#000" stroke-width="0.62"/>
<line x1="87.50" y1="85.53" x2="90.50" y2="85.53" stroke="#000" stroke-width="0.62"/>
<line x1="462.50" y1="85.53" x2="459.50" y2="85.53" stroke="#000" stroke-width="0.62"/>
<line x1="87.50" y1="83.11" x2="90.50" y2="83.11" stroke="#000" stroke-width="0.62"/>
<line x1="462.50" y1="83.11" x2="459.50" y2="83.11" stroke="#000" stroke-width="0.62"/>
<line x1="87.50" y1="80.95" x2="93.10" y2="80.95" stroke="#000" stroke-width="0.62"/>
<line x1="462.50" y1="80.95" x2="456.90" y2="80.95" stroke="#000" stroke-width="0.62"/>
<line x1="87.50" y1="66.69" x2="90.50" y2="66.69" stroke="#000" stroke-width="0.62"/>
<line x1="462.50" y1="66.69" x2="459.50" y2="66.69" stroke="#000" stroke-width="0.62"/>
<line x1="87.50" y1="58.35" x2="90.50" y2="58.35" stroke="#000" stroke-width="0.62"/>
<line x1="462.50" y1="58.35" x2="459.50" y2="58.35" stroke="#000" stroke-width="0.62"/>
<line x1="87.50" y1="52.44" x2="90.50" y2="52.44" stroke="#000" stroke-width="0.62"/>
<line x1="462.50" y1="52.44" x2="459.50" y2="52.44" stroke="#000" stroke-width="0.62"/>
<line x1="87.50" y1="47.85" x2="90.50" y2="47.85" stroke="#000" stroke-width="0.62"/>
<line x1="462.50" y1="47.85" x2="459.50" y2="47.85" stroke="#000" stroke-width="0.62"/>
<line x1="87.50" y1="44.10" x2="90.50" y2="44.10" stroke="#000" stroke-width="0.62"/>
<line x1="462.50" y1="44.10" x2="459.50" y2="44.10" stroke="#000" stroke-width="0.62"/>
<line x1="87.50" y1="40.93" x2="90.50" y2="40.93" stroke="#000" stroke-width="0.62"/>
<line x1="462.50" y1="40.93" x2="459.50" y2="40.93" stroke="#000" stroke-width="0.62"/>
<line x1="87.50" y1="38.18" x2="90.50" y2="38.18" stroke="#000" stroke-width="0.62"/>
<line x1="462.50" y1="38.18" x2="459.50" y2="38.18" stroke="#000" stroke-width="0.62"/>
<line x1="87.50" y1="35.76" x2="90.50" y2="35.76" stroke="#000" stroke-width="0.62"/>
<line x1="462.50" y1="35.76" x2="459.50" y2="35.76" stroke="#000" stroke-width="0.62"/>
<line x1="87.50" y1="33.60" x2="93.10" y2="33.60" stroke="#000" stroke-width="0.62"/>
<line x1="462.50" y1="33.60" x2="456.90" y2="33.60" stroke="#000" stroke-width="0.62"/>
<line x1="87.50" y1="19.34" x2="90.50" y2="19.34" stroke="#000" stroke-width="0.62"/>
<line x1="462.50" y1="19.34" x2="459.50" y2="19.34" stroke="#000" stroke-width="0.62"/>
<line x1="87.50" y1="11.00" x2="90.50" y2="11.00" stroke="#000" stroke-width="0.62"/>
<line x1="462.50" y1="11.00" x2="459.50" y2="11.00" stroke="#000" stroke-width="0.62"/>
<line x1="87.50" y1="5.09" x2="90.50" y2="5.09" stroke="#000" stroke-width="0.62"/>
<line x1="462.50" y1="5.09" x2="459.50" y2="5.09" stroke="#000" stroke-width="0.62"/>
<line x1="87.50" y1="314.65" x2="90.50" y2="314.65" stroke="#000" stroke-width="0.62"/>
<line x1="462.50" y1="314.65" x2="459.50" y2="314.65" stroke="#000" stroke-width="0.62"/>
<line x1="87.50" y1="308.58" x2="90.50" y2="308.58" stroke="#000" stroke-width="0.62"/>
<line x1="462.50" y1="308.58" x2="459.50" y2="308.58" stroke="#000" stroke-width="0.62"/>
<line x1="87.50" y1="303.46" x2="90.50" y2="303.46" stroke="#000" stroke-width="0.62"/>
<line x1="462.50" y1="303.46" x2="459.50" y2="303.46" stroke="#000" stroke-width="0.62"/>
<line x1="87.50" y1="299.01" x2="90.50" y2="299.01" stroke="#000" stroke-width="0.62"/>
<line x1="462.50" y1="299.01" x2="459.50" y2="299.01" stroke="#000" stroke-width="0.62"/>
<line x1="87.50" y1="295.10" x2="90.50" y2="295.10" stroke="#000" stroke-width="0.62"/>
<line x1="462.50" y1="295.10" x2="459.50" y2="295.10" stroke="#000" stroke-width="0.62"/>
<line x1="87.50" y1="291.59" x2="93.10" y2="291.59" stroke="#000" stroke-width="0.62"/>
<line x1="462.50" y1="291.59" x2="456.90" y2="291.59" stroke="#000" stroke-width="0.62"/>
<line x1="87.50" y1="268.53" x2="90.50" y2="268.53" stroke="#000" stroke-width="0.62"/>
<line x1="462.50" y1="268.53" x2="459.50" y2="268.53" stroke="#000" stroke-width="0.62"/>
<line x1="87.50" y1="255.04" x2="90.50" y2="255.04" stroke="#000" stroke-width="0.62"/>
<line x1="462.50" y1="255.04" x2="459.50" y2="255.04" stroke="#000" stroke-width="0.62"/>
<line x1="87.50" y1="245.47" x2="90.50" y2="245.47" stroke="#000" stroke-width="0.62"/>
<line x1="462.50" y1="245.47" x2="459.50" y2="245.47" stroke="#000" stroke-width="0.62"/>
<line x1="87.50" y1="238.05" x2="90.50" y2="238.05" stroke="#000" stroke-width="0.62"/>
<line x1="462.50" y1="238.05" x2="459.50" y2="238.05" stroke="#000" stroke-width="0.62"/>
<line x1="87.50" y1="231.98" x2="90.50" y2="231.98" stroke="#000" stroke-width="0.62"/>
<line x1="462.50" y1="231.98" x2="459.50" y2="231.98" stroke="#000" stroke-width="0.62"/>
<line x1="87.50" y1="226.86" x2="90.50" y2="226.86" stroke="#000" stroke-width="0.62"/>
<line x1="462.50" y1="226.86" x2="459.50" y2="226.86" stroke="#000" stroke-width="0.62"/>
<line x1="87.50" y1="222.41" x2="90.50" y2="222.41" stroke="#000" stroke-width="0.62"/>
<line x1="462.50" y1="222.41" x2="459.50" y2="222.41" stroke="#000" stroke-width="0.62"/>
<line x1="87.50" y1="218.50" x2="90.50" y2="218.50" stroke="#000" stroke-width="0.62"/>
<line x1="462.50" y1="218.50" x2="459.50" y2="218.50" stroke="#000" stroke-width="0.62"/>
<line x1="87.50" y1="214.99" x2="93.10" y2="214.99" stroke="#000" stroke-width="0.62"/>
<line x1="462.50" y1="214.99" x2="456.90" y2="214.99" stroke="#000" stroke-width="0.62"/>
<line x1="87.50" y1="191.93" x2="90.50" y2="191.93" stroke="#000" stroke-width="0.62"/>
<line x1="462.50" y1="191.93" x2="459.50" y2="191.93" stroke="#000" stroke-width="0.62"/>
<line x1="87.50" y1="178.44" x2="90.50" y2="178.44" stroke="#000" stroke-width="0.62"/>
<line x1="462.50" y1="178.44" x2="459.50" y2="178.44" stroke="#000" stroke-width="0.62"/>
<line x1="87.50" y1="168.87" x2="90.50" y2="168.87" stroke="#000" stroke-width="0.62"/>
<line x1="462.50" y1="168.87" x2="459.50" y2="168.87" stroke="#000" stroke-width="0.62"/>
<line x1="87.50" y1="475.20" x2="90.50" y2="475.20" stroke="#000" stroke-width="0.62"/>
<line x1="462.50" y1="475.20" x2="459.50" y2="475.20" stroke="#000" stroke-width="0.62"/>
<line x1="87.50" y1="469.13" x2="90.50" y2="469.13" stroke="#000" stroke-width="0.62"/>
<line x1="462.50" y1="469.13" x2="459.50" y2="469.13" stroke="#000" stroke-width="0.62"/>
<line x1="87.50" y1="464.01" x2="90.50" y2="464.01" stroke="#000" stroke-width="0.62"/>
<line x1="462.50" y1="464.01" x2="459.50" y2="464.01" stroke="#000" stroke-width="0.62"/>
<line x1="87.50" y1="459.56" x2="90.50" y2="459.56" stroke="#000" stroke-width="0.62"/>
<line x1="462.50" y1="459.56" x2="459.50" y2="459.56" stroke="#000" stroke-width="0.62"/>
<line x1="87.50" y1="455.65" x2="90.50" y2="455.65" stroke="#000" stroke-width="0.62"/>
<line x1="462.50" y1="455.65" x2="459.50" y2="455.65" stroke="#000" stroke-width="0.62"/>
<line x1="87.50" y1="452.14" x2="93.10" y2="452.14" stroke="#000" stroke-width="0.62"/>
<line x1="462.50" y1="452.14" x2="456.90" y2="452.14" stroke="#000" stroke-width="0.62"/>
<line x1="87.50" y1="429.08" x2="90.50" y2="429.08" stroke="#000" stroke-width="0.62"/>
<line x1="462.50" y1="429.08" x2="459.50" y2="429.08" stroke="#000" stroke-width="0.62"/>
<line x1="87.50" y1="415.59" x2="90.50" y2="415.59" stroke="#000" stroke-width="0.62"/>
<line x1="462.50" y1="415.59" x2="459.50" y2="415.59" stroke="#000" stroke-width="0.62"/>
<line x1="87.50" y1="406.02" x2="90.50" y2="406.02" stroke="#000" stroke-width="0.62"/>
<line x1="462.50" y1="406.02" x2="459.50" y2="406.02" stroke="#000" stroke-width="0.62"/>
<line x1="87.50" y1="398.60" x2="90.50" y2="398.60" stroke="#000" stroke-width="0.62"/>
<line x1="462.50" y1="398.60" x2="459.50" y2="398.60" stroke="#000" stroke-width="0.62"/>
<line x1="87.50" y1="392.53" x2="90.50" y2="392.53" stroke="#000" stroke-width="0.62"/>
<line x1="462.50" y1="392.53" x2="459.50" y2="392.53" stroke="#000" stroke-width="0.62"/>
<line x1="87.50" y1="387.41" x2="90.50" y2="387.41" stroke="#000" stroke-width="0.62"/>
<line x1="462.50" y1="387.41" x2="459.50" y2="387.41" stroke="#000" stroke-width="0.62"/>
<line x1="87.50" y1="382.96" x2="90.50" y2="382.96" stroke="#000" stroke-width="0.62"/>
<line x1="462.50" y1="382.96" x2="459.50" y2="382.96" stroke="#000" stroke-width="0.62"/>
<line x1="87.50" y1="379.05" x2="90.50" y2="379.05" stroke="#000" stroke-width="0.62"/>
<line x1="462.50" y1="379.05" x2="459.50" y2="379.05" stroke="#000" stroke-width="0.62"/>
<line x1="87.50" y1="375.54" x2="93.10" y2="375.54" stroke="#000" stroke-width="0.62"/>
<line x1="462.50" y1="375.54" x2="456.90" y2="375.54" stroke="#000" stroke-width="0.62"/>
<line x1="87.50" y1="352.48" x2="90.50" y2="352.48" stroke="#000" stroke-width="0.62"/>
<line x1="462.50" y1="352.48" x2="459.50" y2="352.48" stroke="#000" stroke-width="0.62"/>
<line x1="87.50" y1="338.99" x2="90.50" y2="338.99" stroke="#000" stroke-width="0.62"/>
<line x1="462.50" y1="338.99" x2="459.50" y2="338.99" stroke="#000" stroke-width="0.62"/>
<line x1="87.50" y1="329.42" x2="90.50" y2="329.42" stroke="#000" stroke-width="0.62"/>
<line x1="462.50" y1="329.42" x2="459.50" y2="329.42" stroke="#000" stroke-width="0.62"/>
<line x1="87.50" y1="627.27" x2="90.50" y2="627.27" stroke="#000" stroke-width="0.62"/>
<line x1="462.50" y1="627.27" x2="459.50" y2="627.27" stroke="#000" stroke-width="0.62"/>
<line x1="87.50" y1="615.19" x2="90.50" y2="615.19" stroke="#000" stroke-width="0.62"/>
<line x1="462.50" y1="615.19" x2="459.50" y2="615.19" stroke="#000" stroke-width="0.62"/>
<line x1="87.50" y1="603.10" x2="90.50" y2="603.10" stroke="#000" stroke-width="0.62"/>
<line x1="462.50" y1="603.10" x2="459.50" y2="603.10" stroke="#000" stroke-width="0.62"/>
<line x1="87.50" y1="587.12" x2="90.50" y2="587.12" stroke="#000" stroke-width="0.62"/>
<line x1="462.50" y1="587.12" x2="459.50" y2="587.12" stroke="#000" stroke-width="0.62"/>
<line x1="87.50" y1="575.04" x2="93.10" y2="575.04" stroke="#000" stroke-width="0.62"/>
<line x1="462.50" y1="575.04" x2="456.90" y2="575.04" stroke="#000" stroke-width="0.62"/>
<line x1="87.50" y1="562.95" x2="90.50" y2="562.95" stroke="#000" stroke-width="0.62"/>
<line x1="462.50" y1="562.95" x2="459.50" y2="562.95" stroke="#000" stroke-width="0.62"/>
<line x1="87.50" y1="546.97" x2="90.50" y2="546.97" stroke="#000" stroke-width="0.62"/>
<line x1="462.50" y1="546.97" x2="459.50" y2="546.97" stroke="#000" stroke-width="0.62"/>
<line x1="87.50" y1="534.89" x2="90.50" y2="534.89" stroke="#000" stroke-width="0.62"/>
<line x1="462.50" y1="534.89" x2="459.50" y2="534.89" stroke="#000" stroke-width="0.62"/>
<line x1="87.50" y1="522.80" x2="90.50" y2="522.80" stroke="#000" stroke-width="0.62"/>
<line x1="462.50" y1="522.80" x2="459.50" y2="522.80" stroke="#000" stroke-width="0.62"/>
<line x1="87.50" y1="506.82" x2="90.50" y2="506.82" stroke="#000" stroke-width="0.62"/>
<line x1="462.50" y1="506.82" x2="459.50" y2="506.82" stroke="#000" stroke-width="0.62"/>
<line x1="87.50" y1="494.74" x2="93.10" y2="494.74" stroke="#000" stroke-width="0.62"/>
<line x1="462.50" y1="494.74" x2="456.90" y2="494.74" stroke="#000" stroke-width="0.62"/>
<g opacity="0.999">
<text x="46.60" y="38.80" font-family="Liberation Serif, serif" font-size="16.00" fill="#2b2b2b" textLength="17.60" lengthAdjust="spacingAndGlyphs" >10</text>
<text x="65.50" y="30.50" font-family="Liberation Serif, serif" font-size="11.50" fill="#2b2b2b" textLength="13.50" lengthAdjust="spacingAndGlyphs" >−7</text>
<text x="46.60" y="86.15" font-family="Liberation Serif, serif" font-size="16.00" fill="#2b2b2b" textLength="17.60" lengthAdjust="spacingAndGlyphs" >10</text>
<text x="65.50" y="77.85" font-family="Liberation Serif, serif" font-size="11.50" fill="#2b2b2b" textLength="13.50" lengthAdjust="spacingAndGlyphs" >−8</text>
<text x="46.60" y="133.50" font-family="Liberation Serif, serif" font-size="16.00" fill="#2b2b2b" textLength="17.60" lengthAdjust="spacingAndGlyphs" >10</text>
<text x="65.50" y="125.20" font-family="Liberation Serif, serif" font-size="11.50" fill="#2b2b2b" textLength="13.50" lengthAdjust="spacingAndGlyphs" >−9</text>
<text x="55.00" y="220.20" font-family="Liberation Serif, serif" font-size="16.00" fill="#2b2b2b" textLength="17.60" lengthAdjust="spacingAndGlyphs" >10</text>
<text x="73.90" y="211.90" font-family="Liberation Serif, serif" font-size="11.50" fill="#2b2b2b" textLength="4.20" lengthAdjust="spacingAndGlyphs" >1</text>
<text x="71.40" y="296.70" font-family="Liberation Serif, serif" font-size="16.00" fill="#2b2b2b" textLength="7.40" lengthAdjust="spacingAndGlyphs" >1</text>
<text x="55.00" y="380.80" font-family="Liberation Serif, serif" font-size="16.00" fill="#2b2b2b" textLength="17.60" lengthAdjust="spacingAndGlyphs" >10</text>
<text x="73.90" y="372.50" font-family="Liberation Serif, serif" font-size="11.50" fill="#2b2b2b" textLength="4.20" lengthAdjust="spacingAndGlyphs" >1</text>
<text x="71.40" y="457.50" font-family="Liberation Serif, serif" font-size="16.00" fill="#2b2b2b" textLength="7.40" lengthAdjust="spacingAndGlyphs" >1</text>
<text x="46.90" y="500.20" font-family="Liberation Serif, serif" font-size="16.00" fill="#2b2b2b" textLength="17.60" lengthAdjust="spacingAndGlyphs" >10</text>
<text x="65.80" y="491.90" font-family="Liberation Serif, serif" font-size="11.50" fill="#2b2b2b" textLength="13.50" lengthAdjust="spacingAndGlyphs" >−2</text>
<text x="46.90" y="580.30" font-family="Liberation Serif, serif" font-size="16.00" fill="#2b2b2b" textLength="17.60" lengthAdjust="spacingAndGlyphs" >10</text>
<text x="65.80" y="572.00" font-family="Liberation Serif, serif" font-size="11.50" fill="#2b2b2b" textLength="13.50" lengthAdjust="spacingAndGlyphs" >−4</text>
<text x="83.10" y="664.10" font-family="Liberation Sans, sans-serif" font-size="14.00" fill="#2b2b2b" textLength="8.60" lengthAdjust="spacingAndGlyphs" >0</text>
<text x="260.30" y="664.10" font-family="Liberation Sans, sans-serif" font-size="14.00" fill="#2b2b2b" textLength="21.60" lengthAdjust="spacingAndGlyphs" >0.5</text>
<text x="450.80" y="664.10" font-family="Liberation Sans, sans-serif" font-size="14.00" fill="#2b2b2b" textLength="6.00" lengthAdjust="spacingAndGlyphs" >1</text>
<text transform="translate(267.1,678.2) scale(1.5,1)" x="0" y="0" font-family="Liberation Serif, serif" font-size="10.4" fill="#2b2b2b" font-style="italic">f</text>
<text x="272.00" y="683.50" font-family="Liberation Serif, serif" font-size="9.40" fill="#2b2b2b" textLength="7.00" lengthAdjust="spacingAndGlyphs" >H</text>
<text x="279.20" y="687.60" font-family="Liberation Serif, serif" font-size="8.40" fill="#2b2b2b" textLength="4.80" lengthAdjust="spacingAndGlyphs" >2</text>
<text x="235.00" y="32.60" font-family="Liberation Serif, serif" font-size="15.60" fill="#0000ff" textLength="35.40" lengthAdjust="spacingAndGlyphs" >5x10</text>
<text x="272.00" y="24.00" font-family="Liberation Serif, serif" font-size="10.60" fill="#0000ff" textLength="19.60" lengthAdjust="spacingAndGlyphs" >−17</text>
<text x="308.60" y="62.80" font-family="Liberation Serif, serif" font-size="15.60" fill="#ff0000" textLength="35.40" lengthAdjust="spacingAndGlyphs" >2x10</text>
<text x="345.60" y="54.20" font-family="Liberation Serif, serif" font-size="10.60" fill="#ff0000" textLength="19.60" lengthAdjust="spacingAndGlyphs" >−17</text>
<text x="381.80" y="97.60" font-family="Liberation Serif, serif" font-size="15.60" fill="#00ff00" textLength="35.40" lengthAdjust="spacingAndGlyphs" >5x10</text>
<text x="418.80" y="89.00" font-family="Liberation Serif, serif" font-size="10.60" fill="#00ff00" textLength="19.60" lengthAdjust="spacingAndGlyphs" >−18</text>
<line x1="184.6" y1="105.0" x2="194.0" y2="93.0" stroke="#2b2b2b" stroke-width="0.9"/>
<g transform="translate(174.7,101.6) rotate(11.50)" font-family="Liberation Serif, serif" fill="#2b2b2b" font-style="italic"><text x="0" y="0" font-size="16" textLength="8" lengthAdjust="spacingAndGlyphs">ζ</text><text x="19.6" y="0" font-size="16" textLength="7.6" lengthAdjust="spacingAndGlyphs">n</text><text x="27.3" y="3.2" font-size="9.5" textLength="7.2" lengthAdjust="spacingAndGlyphs" font-style="normal">H</text><text x="36.5" y="0" font-size="16" textLength="9" lengthAdjust="spacingAndGlyphs" font-style="normal">=</text><text x="47" y="0" font-size="16" textLength="36" lengthAdjust="spacingAndGlyphs">5x10</text><text x="83.6" y="-8.6" font-size="10.8" textLength="20.5" lengthAdjust="spacingAndGlyphs">−19</text><text x="112.5" y="0" font-size="16" textLength="22.5" lengthAdjust="spacingAndGlyphs" font-style="normal">cm</text><text x="136" y="-8.6" font-size="10.8" textLength="6.4" lengthAdjust="spacingAndGlyphs">3</text><text x="150.5" y="0" font-size="16" textLength="7.5" lengthAdjust="spacingAndGlyphs">s</text><text x="157.3" y="-8.6" font-size="10.8" textLength="12.5" lengthAdjust="spacingAndGlyphs">−1</text></g>
<g transform="translate(14.60,98.50) rotate(-90)" font-family="Liberation Serif, serif" fill="#2b2b2b"><text x="0" y="0" font-size="15.5" textLength="8.3" lengthAdjust="spacingAndGlyphs">χ</text><text x="8.8" y="4.2" font-size="12.4" textLength="13.8" lengthAdjust="spacingAndGlyphs">OH</text><text x="24.3" y="1.5" font-size="17.5" textLength="9.9" lengthAdjust="spacingAndGlyphs">+</text></g>
<g transform="translate(14.20,291.10) rotate(-90)" font-family="Liberation Serif, serif" fill="#2b2b2b"><text x="0" y="0" font-size="15.6" font-style="italic" textLength="9.8" lengthAdjust="spacingAndGlyphs">R</text><text x="10.7" y="5" font-size="9.6" textLength="5.0" lengthAdjust="spacingAndGlyphs">1</text><text x="17.9" y="0" font-size="15.6" textLength="7.8" lengthAdjust="spacingAndGlyphs">=</text><text x="27.3" y="0" font-size="15.6" textLength="18.5" lengthAdjust="spacingAndGlyphs">OH</text><text x="47.6" y="-8.7" font-size="10" textLength="5.4" lengthAdjust="spacingAndGlyphs">+</text><line x1="56.3" y1="3.7" x2="65.5" y2="-9.4" stroke="#2b2b2b" stroke-width="0.9"/><text x="66.6" y="0" font-size="15.6" textLength="8.2" lengthAdjust="spacingAndGlyphs">H</text><text x="76.4" y="5" font-size="9.3" textLength="5.4" lengthAdjust="spacingAndGlyphs">2</text><text x="82.9" y="0" font-size="15.6" textLength="8.7" lengthAdjust="spacingAndGlyphs">O</text><text x="93.6" y="-8.7" font-size="10" textLength="5.4" lengthAdjust="spacingAndGlyphs">+</text></g>
<g transform="translate(14.20,451.75) rotate(-90)" font-family="Liberation Serif, serif" fill="#2b2b2b"><text x="0" y="0" font-size="15.6" font-style="italic" textLength="9.8" lengthAdjust="spacingAndGlyphs">R</text><text x="10.7" y="5" font-size="9.6" textLength="5.0" lengthAdjust="spacingAndGlyphs">2</text><text x="17.9" y="0" font-size="15.6" textLength="7.8" lengthAdjust="spacingAndGlyphs">=</text><text x="27.3" y="0" font-size="15.6" textLength="18.5" lengthAdjust="spacingAndGlyphs">OH</text><text x="47.6" y="-8.7" font-size="10" textLength="5.4" lengthAdjust="spacingAndGlyphs">+</text><line x1="56.3" y1="3.7" x2="65.5" y2="-9.4" stroke="#2b2b2b" stroke-width="0.9"/><text x="66.6" y="0" font-size="15.6" textLength="8.2" lengthAdjust="spacingAndGlyphs">H</text><text x="76.4" y="5" font-size="9.3" textLength="5.4" lengthAdjust="spacingAndGlyphs">3</text><text x="82.9" y="0" font-size="15.6" textLength="8.7" lengthAdjust="spacingAndGlyphs">O</text><text x="93.6" y="-8.7" font-size="10" textLength="5.4" lengthAdjust="spacingAndGlyphs">+</text></g>
<g transform="translate(14.60,587.40) rotate(-90)" font-family="Liberation Serif, serif" fill="#2b2b2b"><text x="0" y="0" font-size="15.5" textLength="8.1" lengthAdjust="spacingAndGlyphs">χ</text><text x="8.2" y="4.0" font-size="12" textLength="7" lengthAdjust="spacingAndGlyphs">H</text><text x="16.8" y="1.5" font-size="17.5" textLength="9.9" lengthAdjust="spacingAndGlyphs">+</text><text x="28.4" y="4.0" font-size="12" textLength="2.6" lengthAdjust="spacingAndGlyphs">,</text><text x="31.4" y="4.0" font-size="12" textLength="4.8" lengthAdjust="spacingAndGlyphs">e</text><text x="38.3" y="1.8" font-size="17.5" textLength="9.9" lengthAdjust="spacingAndGlyphs">−</text></g>
</g>
</svg>
</body></html>
